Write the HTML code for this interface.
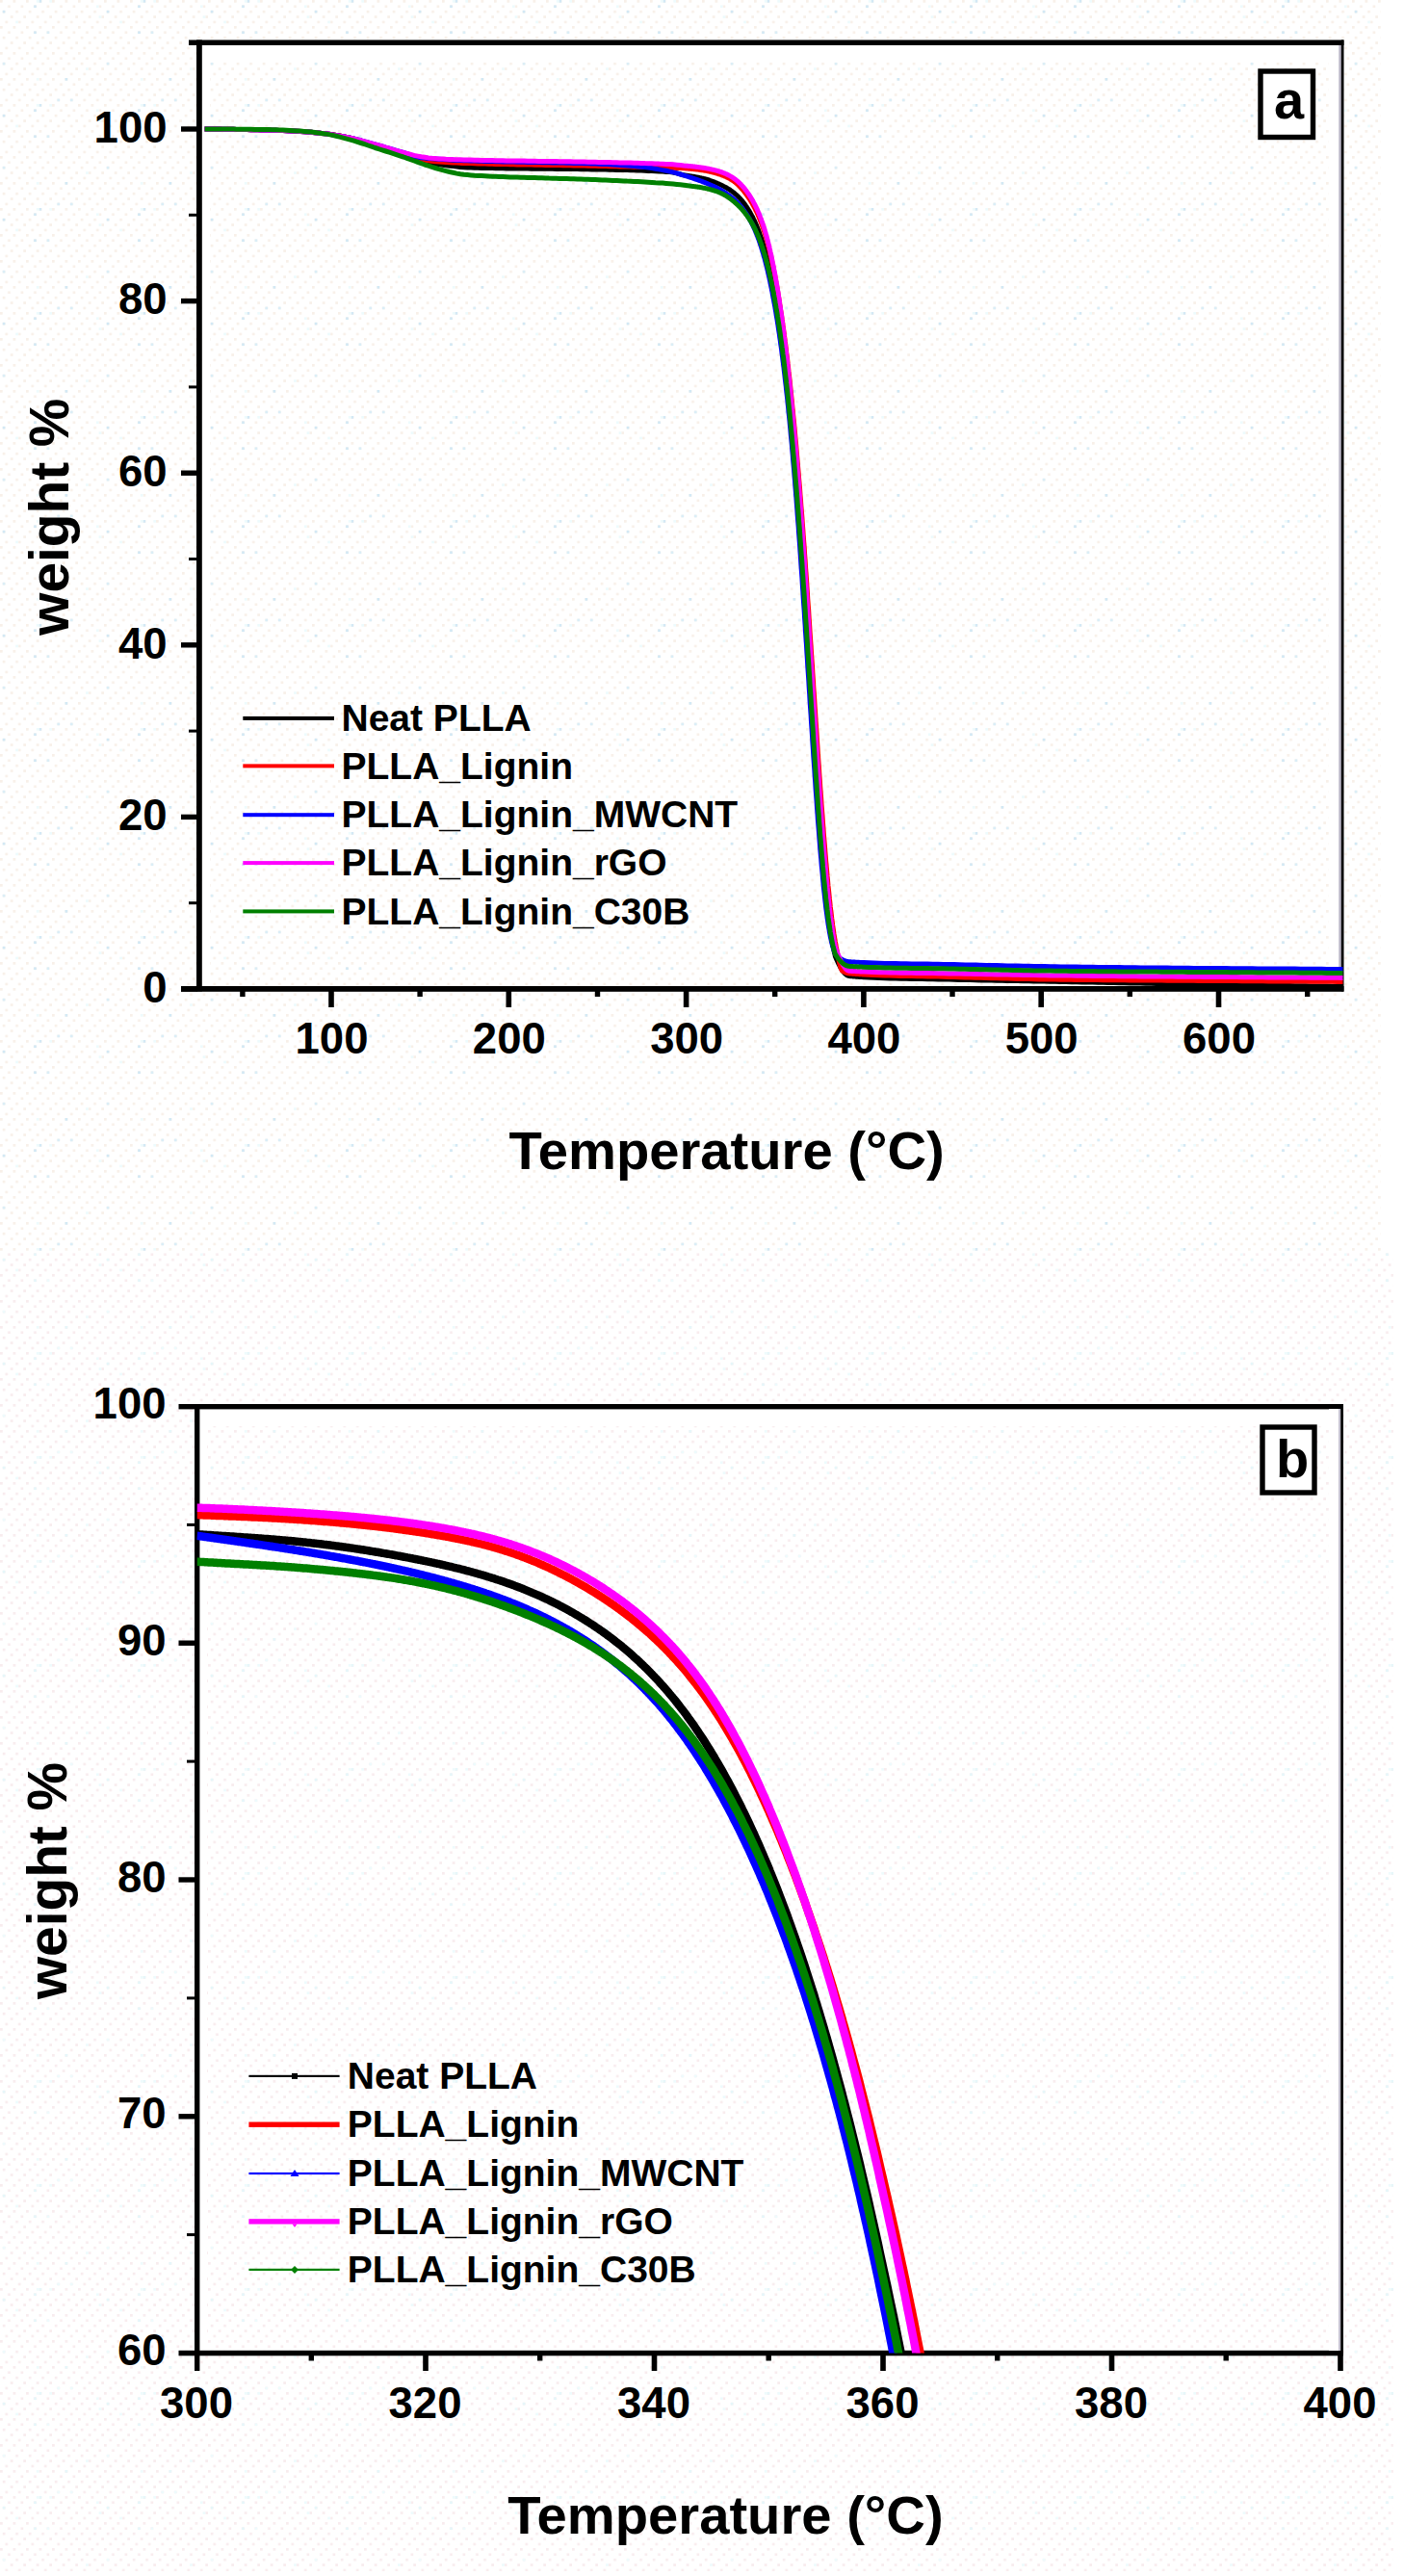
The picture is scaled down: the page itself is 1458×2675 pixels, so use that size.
<!DOCTYPE html>
<html><head><meta charset="utf-8"><title>TGA</title>
<style>html,body{margin:0;padding:0;background:#fff}svg{display:block}text{font-family:"Liberation Sans",sans-serif;font-weight:bold;fill:#000}</style></head><body>
<svg width="1458" height="2675" viewBox="0 0 1458 2675">
<defs>
<pattern id="da" width="13.5" height="27" patternUnits="userSpaceOnUse"><rect x="0.0" y="0.0" width="2.7" height="2.7" fill="#f8f0e9"/><rect x="8.1" y="5.4" width="2.7" height="2.7" fill="#f8f0e9"/><rect x="2.7" y="10.8" width="2.7" height="2.7" fill="#f8f0e9"/><rect x="10.8" y="16.2" width="2.7" height="2.7" fill="#f8f0e9"/><rect x="5.4" y="21.6" width="2.7" height="2.7" fill="#f8f0e9"/></pattern>
<pattern id="db" width="13.5" height="27" patternUnits="userSpaceOnUse"><rect x="0.0" y="0.0" width="2.7" height="2.7" fill="#f8ecee"/><rect x="8.1" y="5.4" width="2.7" height="2.7" fill="#f8ecee"/><rect x="2.7" y="10.8" width="2.7" height="2.7" fill="#f8ecee"/><rect x="10.8" y="16.2" width="2.7" height="2.7" fill="#f8ecee"/><rect x="5.4" y="21.6" width="2.7" height="2.7" fill="#f8ecee"/></pattern>
<pattern id="ea" width="108" height="108" patternUnits="userSpaceOnUse"><rect x="40.5" y="0.0" width="2.7" height="2.7" fill="#d3e9f5"/><rect x="37.8" y="0.0" width="2.7" height="2.7" fill="#eefbfd"/><rect x="51.3" y="0.0" width="2.7" height="2.7" fill="#eefbfd"/><rect x="35.1" y="5.4" width="2.7" height="2.7" fill="#d3e9f5"/><rect x="99.9" y="5.4" width="2.7" height="2.7" fill="#eefbfd"/><rect x="2.7" y="10.8" width="2.7" height="2.7" fill="#d3e9f5"/><rect x="102.6" y="16.2" width="2.7" height="2.7" fill="#eefbfd"/><rect x="16.2" y="21.6" width="2.7" height="2.7" fill="#eefbfd"/><rect x="35.1" y="32.4" width="2.7" height="2.7" fill="#d3e9f5"/><rect x="48.6" y="32.4" width="2.7" height="2.7" fill="#dbeef7"/><rect x="2.7" y="64.8" width="2.7" height="2.7" fill="#dbeef7"/><rect x="89.1" y="70.2" width="2.7" height="2.7" fill="#eefbfd"/><rect x="37.8" y="81.0" width="2.7" height="2.7" fill="#eefbfd"/><rect x="67.5" y="81.0" width="2.7" height="2.7" fill="#d3e9f5"/><rect x="59.4" y="102.6" width="2.7" height="2.7" fill="#dbeef7"/><rect x="72.9" y="102.6" width="2.7" height="2.7" fill="#dbeef7"/></pattern>
<pattern id="eb" width="108" height="108" patternUnits="userSpaceOnUse"><rect x="40.5" y="0.0" width="2.7" height="2.7" fill="#e6f7fa"/><rect x="37.8" y="0.0" width="2.7" height="2.7" fill="#eefbfd"/><rect x="51.3" y="0.0" width="2.7" height="2.7" fill="#eefbfd"/><rect x="35.1" y="5.4" width="2.7" height="2.7" fill="#e6f7fa"/><rect x="99.9" y="5.4" width="2.7" height="2.7" fill="#eefbfd"/><rect x="2.7" y="10.8" width="2.7" height="2.7" fill="#e6f7fa"/><rect x="102.6" y="16.2" width="2.7" height="2.7" fill="#eefbfd"/><rect x="16.2" y="21.6" width="2.7" height="2.7" fill="#eefbfd"/><rect x="35.1" y="32.4" width="2.7" height="2.7" fill="#e6f7fa"/><rect x="48.6" y="32.4" width="2.7" height="2.7" fill="#eefbfd"/><rect x="2.7" y="64.8" width="2.7" height="2.7" fill="#eefbfd"/><rect x="89.1" y="70.2" width="2.7" height="2.7" fill="#eefbfd"/><rect x="37.8" y="81.0" width="2.7" height="2.7" fill="#eefbfd"/><rect x="67.5" y="81.0" width="2.7" height="2.7" fill="#e6f7fa"/><rect x="59.4" y="102.6" width="2.7" height="2.7" fill="#eefbfd"/><rect x="72.9" y="102.6" width="2.7" height="2.7" fill="#eefbfd"/></pattern>
<clipPath id="cb"><rect x="204.5" y="1463" width="1188" height="980.5"/></clipPath>
<clipPath id="ca"><rect x="210" y="47" width="1185.5" height="983"/></clipPath>
</defs>
<rect width="1458" height="2675" fill="#ffffff"/>
<rect x="0" y="0" width="1434" height="1300" fill="url(#da)"/>
<rect x="0" y="1300" width="1447" height="1370" fill="url(#db)"/>
<rect x="0" y="0" width="1434" height="1300" fill="url(#ea)"/>
<rect x="0" y="1300" width="1447" height="1370" fill="url(#eb)"/>
<rect x="210" y="47" width="1182" height="18" fill="#fff"/>
<rect x="210" y="47" width="8" height="977" fill="#fff"/>
<rect x="196" y="41.5" width="1199.5" height="5.5" fill="#000"/><rect x="204" y="41.5" width="5.8" height="988" fill="#000"/><rect x="188" y="1024" width="1207.5" height="5.8" fill="#000"/><rect x="1380" y="47" width="11" height="977" fill="#fff"/><rect x="1390.3" y="47" width="2.7" height="977" fill="#b9b5c6"/><rect x="1392.8" y="41.5" width="2.7" height="988" fill="#000"/>
<g clip-path="url(#ca)" fill="none" stroke-width="5" stroke-linejoin="round">
<path d="M212.6,134.0 L216.3,134.0 L220.0,134.0 L223.7,134.1 L227.3,134.1 L231.0,134.2 L234.7,134.2 L238.4,134.3 L242.1,134.3 L245.8,134.4 L249.5,134.5 L253.1,134.5 L256.8,134.6 L260.5,134.7 L264.2,134.8 L267.9,134.8 L271.6,134.9 L275.3,135.0 L278.9,135.1 L282.6,135.2 L286.3,135.3 L290.0,135.5 L293.7,135.6 L297.4,135.8 L301.1,135.9 L304.7,136.1 L308.4,136.3 L312.1,136.5 L315.8,136.8 L319.5,137.0 L323.2,137.3 L326.9,137.7 L330.5,138.0 L334.2,138.4 L337.9,138.8 L341.6,139.3 L345.3,139.8 L349.0,140.4 L352.7,141.0 L356.3,141.7 L360.0,142.4 L363.7,143.2 L367.4,144.2 L371.1,145.3 L374.8,146.5 L378.5,147.8 L382.2,149.1 L385.8,150.4 L389.5,151.7 L393.2,152.9 L396.9,154.1 L400.6,155.2 L404.3,156.4 L408.0,157.6 L411.6,158.8 L415.3,160.0 L419.0,161.2 L422.7,162.5 L426.4,163.9 L430.1,165.2 L433.8,166.4 L437.4,167.4 L441.1,168.2 L444.8,169.0 L448.5,169.7 L452.2,170.3 L455.9,170.8 L459.6,171.3 L463.2,171.7 L466.9,172.2 L470.6,172.6 L474.3,173.0 L478.0,173.4 L481.7,173.7 L485.4,173.9 L489.0,174.1 L492.7,174.2 L496.4,174.3 L500.1,174.4 L503.8,174.5 L507.5,174.6 L511.2,174.6 L514.8,174.7 L518.5,174.8 L522.2,174.8 L525.9,174.9 L529.6,174.9 L533.3,175.0 L537.0,175.0 L540.6,175.1 L544.3,175.1 L548.0,175.1 L551.7,175.2 L555.4,175.2 L559.1,175.2 L562.8,175.3 L566.5,175.3 L570.1,175.3 L573.8,175.3 L577.5,175.4 L581.2,175.4 L584.9,175.5 L588.6,175.5 L592.3,175.5 L595.9,175.6 L599.6,175.6 L603.3,175.7 L607.0,175.7 L610.7,175.8 L614.4,175.9 L618.1,175.9 L621.7,176.0 L625.4,176.1 L629.1,176.1 L632.8,176.2 L636.5,176.3 L640.2,176.4 L643.9,176.5 L647.5,176.5 L651.2,176.6 L654.9,176.7 L658.6,176.8 L662.3,177.0 L666.0,177.1 L669.7,177.2 L673.3,177.4 L677.0,177.5 L680.7,177.7 L684.4,177.9 L688.1,178.1 L691.8,178.4 L695.5,178.6 L699.1,179.1 L702.8,179.9 L706.5,180.8 L710.2,181.8 L712.6,182.2 L713.1,182.3 L713.5,182.4 L714.0,182.4 L714.4,182.5 L714.9,182.6 L715.4,182.6 L715.8,182.7 L716.3,182.8 L716.7,182.8 L717.2,182.9 L717.7,183.0 L718.1,183.1 L718.6,183.1 L719.1,183.2 L719.5,183.3 L720.0,183.3 L720.4,183.4 L720.9,183.5 L721.4,183.6 L721.8,183.6 L722.3,183.7 L722.7,183.8 L723.2,183.9 L723.7,183.9 L724.1,184.0 L724.6,184.1 L725.0,184.2 L725.5,184.3 L726.0,184.4 L726.4,184.5 L726.9,184.6 L727.3,184.7 L727.8,184.8 L728.3,184.9 L728.7,185.0 L729.2,185.1 L729.6,185.2 L730.1,185.3 L730.6,185.4 L731.0,185.5 L731.5,185.6 L732.0,185.8 L732.4,185.9 L732.9,186.0 L733.3,186.1 L733.8,186.3 L734.3,186.4 L734.7,186.5 L735.2,186.7 L735.6,186.8 L736.1,187.0 L736.6,187.1 L737.0,187.3 L737.5,187.4 L737.9,187.6 L738.4,187.8 L738.9,187.9 L739.3,188.1 L739.8,188.3 L740.2,188.4 L740.7,188.6 L741.2,188.8 L741.6,189.0 L742.1,189.1 L742.5,189.3 L743.0,189.5 L743.5,189.7 L743.9,189.9 L744.4,190.1 L744.9,190.3 L745.3,190.5 L745.8,190.7 L746.2,190.9 L746.7,191.1 L747.2,191.3 L747.6,191.5 L748.1,191.7 L748.5,191.9 L749.0,192.2 L749.5,192.4 L749.9,192.6 L750.4,192.8 L750.8,193.1 L751.3,193.3 L751.8,193.5 L752.2,193.8 L752.7,194.0 L753.1,194.3 L753.6,194.5 L754.1,194.8 L754.5,195.0 L755.0,195.3 L755.4,195.6 L755.9,195.9 L756.4,196.2 L756.8,196.4 L757.3,196.7 L757.8,197.0 L758.2,197.3 L758.7,197.7 L759.1,198.0 L759.6,198.3 L760.1,198.6 L760.5,199.0 L761.0,199.3 L761.4,199.7 L761.9,200.0 L762.4,200.4 L762.8,200.8 L763.3,201.2 L763.7,201.6 L764.2,202.0 L764.7,202.4 L765.1,202.8 L765.6,203.2 L766.0,203.7 L766.5,204.1 L767.0,204.6 L767.4,205.1 L767.9,205.5 L768.4,206.0 L768.8,206.5 L769.3,207.0 L769.7,207.6 L770.2,208.1 L770.7,208.6 L771.1,209.2 L771.6,209.8 L772.0,210.3 L772.5,210.9 L773.0,211.5 L773.4,212.2 L773.9,212.8 L774.3,213.4 L774.8,214.1 L775.3,214.8 L775.7,215.4 L776.2,216.1 L776.6,216.8 L777.1,217.6 L777.6,218.3 L778.0,219.1 L778.5,219.9 L778.9,220.6 L779.4,221.5 L779.9,222.3 L780.3,223.1 L780.8,224.0 L781.3,224.9 L781.7,225.8 L782.2,226.7 L782.6,227.6 L783.1,228.6 L783.6,229.6 L784.0,230.6 L784.5,231.6 L784.9,232.7 L785.4,233.7 L785.9,234.8 L786.3,236.0 L786.8,237.1 L787.2,238.3 L787.7,239.5 L788.2,240.7 L788.6,242.0 L789.1,243.3 L789.5,244.6 L790.0,245.9 L790.5,247.3 L790.9,248.7 L791.4,250.1 L791.8,251.6 L792.3,253.1 L792.8,254.7 L793.2,256.2 L793.7,257.8 L794.2,259.5 L794.6,261.2 L795.1,262.9 L795.5,264.6 L796.0,266.4 L796.5,268.2 L796.9,270.1 L797.4,272.0 L797.8,273.9 L798.3,275.9 L798.8,277.9 L799.2,280.0 L799.7,282.1 L800.1,284.2 L800.6,286.4 L801.1,288.7 L801.5,290.9 L802.0,293.2 L802.4,295.6 L802.9,298.0 L803.4,300.5 L803.8,303.0 L804.3,305.5 L804.8,308.1 L805.2,310.7 L805.7,313.4 L806.1,316.2 L806.6,318.9 L807.1,321.8 L807.5,324.7 L808.0,327.6 L808.4,330.6 L808.9,333.7 L809.4,336.8 L809.8,339.9 L810.3,343.2 L810.7,346.4 L811.2,349.8 L811.7,353.2 L812.1,356.6 L812.6,360.1 L813.0,363.7 L813.5,367.3 L814.0,371.0 L814.4,374.8 L814.9,378.6 L815.3,382.5 L815.8,386.4 L816.3,390.4 L816.7,394.5 L817.2,398.6 L817.7,402.8 L818.1,407.1 L818.6,411.4 L819.0,415.9 L819.5,420.3 L820.0,424.9 L820.4,429.5 L820.9,434.2 L821.3,438.9 L821.8,443.8 L822.3,448.7 L822.7,453.7 L823.2,458.7 L823.6,463.7 L824.1,468.7 L824.6,473.8 L825.0,479.0 L825.5,484.3 L825.9,489.6 L826.4,495.0 L826.9,500.4 L827.3,506.0 L827.8,511.6 L828.2,517.2 L828.7,523.0 L829.2,528.8 L829.6,534.6 L830.1,540.6 L830.6,546.5 L831.0,552.6 L831.5,558.7 L831.9,564.9 L832.4,571.1 L832.9,577.4 L833.3,583.7 L833.8,590.1 L834.2,596.6 L834.7,603.2 L835.2,609.9 L835.6,616.6 L836.1,623.3 L836.5,630.2 L837.0,637.0 L837.5,643.9 L837.9,650.8 L838.4,657.7 L838.8,664.7 L839.3,671.7 L839.8,678.7 L840.2,685.7 L840.7,692.7 L841.1,699.8 L841.6,706.8 L842.1,713.9 L842.5,720.9 L843.0,728.0 L843.5,735.0 L843.9,742.0 L844.4,749.1 L844.8,756.0 L845.3,763.0 L845.8,769.9 L846.2,776.8 L846.7,783.7 L847.1,790.5 L847.6,797.3 L848.1,804.0 L848.5,810.7 L849.0,817.3 L849.4,823.8 L849.9,830.3 L850.4,836.6 L850.8,843.0 L851.3,849.2 L851.7,855.3 L852.2,861.4 L852.7,867.3 L853.1,873.2 L853.6,879.0 L854.1,884.6 L854.5,890.1 L855.0,895.6 L855.4,900.9 L855.9,906.1 L856.4,911.1 L856.8,916.1 L857.3,920.9 L857.7,925.6 L858.2,930.2 L858.7,934.6 L859.1,938.9 L859.6,943.0 L860.0,947.1 L860.5,950.9 L861.0,954.7 L861.4,958.3 L861.9,961.8 L862.3,965.1 L862.8,968.3 L863.3,971.3 L863.7,974.3 L864.2,977.1 L864.6,979.7 L865.1,982.3 L865.6,984.7 L866.0,986.9 L866.5,989.1 L867.0,991.3 L867.4,993.1 L867.9,994.2 L868.3,995.3 L868.8,996.4 L869.3,997.4 L869.7,998.4 L870.2,999.4 L870.6,1000.4 L871.1,1001.3 L871.6,1002.2 L872.0,1003.1 L872.5,1004.0 L872.9,1004.8 L873.4,1005.6 L873.9,1006.3 L874.3,1007.0 L874.8,1007.7 L875.2,1008.4 L875.7,1009.0 L876.2,1009.6 L876.6,1010.1 L877.1,1010.6 L877.5,1011.1 L878.0,1011.5 L878.5,1011.9 L878.9,1012.3 L879.4,1012.6 L879.9,1012.9 L880.3,1013.1 L880.8,1013.3 L881.2,1013.4 L881.7,1013.5 L882.2,1013.6 L882.6,1013.6 L883.1,1013.7 L883.5,1013.7 L884.0,1013.8 L884.5,1013.8 L884.9,1013.8 L885.4,1013.9 L885.8,1013.9 L886.3,1013.9 L886.8,1014.0 L887.2,1014.0 L887.7,1014.1 L888.1,1014.1 L888.6,1014.1 L889.1,1014.2 L889.5,1014.2 L890.0,1014.2 L890.4,1014.3 L890.9,1014.3 L891.4,1014.3 L891.8,1014.4 L892.3,1014.4 L892.8,1014.4 L893.2,1014.4 L893.7,1014.5 L894.1,1014.5 L894.6,1014.5 L895.1,1014.6 L895.5,1014.6 L896.0,1014.6 L896.4,1014.7 L896.9,1014.7 L902.4,1015.0 L908.0,1015.3 L913.5,1015.5 L919.0,1015.7 L924.5,1015.9 L930.1,1016.1 L935.6,1016.2 L941.1,1016.3 L946.7,1016.4 L952.2,1016.5 L957.7,1016.6 L963.2,1016.7 L968.8,1016.8 L974.3,1016.9 L979.8,1017.0 L985.4,1017.1 L990.9,1017.2 L996.4,1017.4 L1002.0,1017.5 L1007.5,1017.6 L1013.0,1017.7 L1018.5,1017.9 L1024.1,1018.0 L1029.6,1018.1 L1035.1,1018.2 L1040.7,1018.3 L1046.2,1018.4 L1051.7,1018.5 L1057.2,1018.6 L1062.8,1018.7 L1068.3,1018.8 L1073.8,1018.9 L1079.4,1019.0 L1084.9,1019.1 L1090.4,1019.2 L1095.9,1019.3 L1101.5,1019.4 L1107.0,1019.6 L1112.5,1019.7 L1118.1,1019.8 L1123.6,1019.9 L1129.1,1020.0 L1134.6,1020.1 L1140.2,1020.2 L1145.7,1020.3 L1151.2,1020.4 L1156.8,1020.5 L1162.3,1020.7 L1167.8,1020.8 L1173.3,1020.9 L1178.9,1021.0 L1184.4,1021.1 L1189.9,1021.2 L1195.5,1021.3 L1201.0,1021.4 L1206.5,1021.5 L1212.1,1021.6 L1217.6,1021.7 L1223.1,1021.8 L1228.6,1021.9 L1234.2,1022.0 L1239.7,1022.1 L1245.2,1022.2 L1250.8,1022.3 L1256.3,1022.4 L1261.8,1022.5 L1267.3,1022.6 L1272.9,1022.6 L1278.4,1022.7 L1283.9,1022.8 L1289.5,1022.9 L1295.0,1023.0 L1300.5,1023.1 L1306.0,1023.1 L1311.6,1023.2 L1317.1,1023.3 L1322.6,1023.4 L1328.2,1023.5 L1333.7,1023.5 L1339.2,1023.6 L1344.7,1023.7 L1350.3,1023.7 L1355.8,1023.8 L1361.3,1023.9 L1366.9,1024.0 L1372.4,1024.0 L1377.9,1024.1 L1383.5,1024.2 L1389.0,1024.2 L1394.5,1024.3" stroke="#000000"/>
<path d="M212.6,134.0 L216.3,134.0 L220.0,134.0 L223.7,134.1 L227.3,134.1 L231.0,134.2 L234.7,134.2 L238.4,134.3 L242.1,134.3 L245.8,134.4 L249.5,134.5 L253.1,134.5 L256.8,134.6 L260.5,134.7 L264.2,134.8 L267.9,134.8 L271.6,134.9 L275.3,135.0 L278.9,135.1 L282.6,135.2 L286.3,135.3 L290.0,135.5 L293.7,135.6 L297.4,135.8 L301.1,135.9 L304.7,136.1 L308.4,136.3 L312.1,136.5 L315.8,136.8 L319.5,137.0 L323.2,137.3 L326.9,137.7 L330.5,138.0 L334.2,138.4 L337.9,138.8 L341.6,139.3 L345.3,139.8 L349.0,140.4 L352.7,141.0 L356.3,141.7 L360.0,142.4 L363.7,143.2 L367.4,144.1 L371.1,145.1 L374.8,146.2 L378.5,147.3 L382.2,148.5 L385.8,149.6 L389.5,150.8 L393.2,151.9 L396.9,153.1 L400.6,154.3 L404.3,155.6 L408.0,156.8 L411.6,158.0 L415.3,159.2 L419.0,160.3 L422.7,161.5 L426.4,162.7 L430.1,163.8 L433.8,164.7 L437.4,165.5 L441.1,166.2 L444.8,166.8 L448.5,167.3 L452.2,167.7 L455.9,168.0 L459.6,168.3 L463.2,168.5 L466.9,168.7 L470.6,168.9 L474.3,169.1 L478.0,169.2 L481.7,169.4 L485.4,169.5 L489.0,169.6 L492.7,169.8 L496.4,169.9 L500.1,170.0 L503.8,170.1 L507.5,170.2 L511.2,170.3 L514.8,170.4 L518.5,170.5 L522.2,170.5 L525.9,170.6 L529.6,170.7 L533.3,170.8 L537.0,170.9 L540.6,170.9 L544.3,171.0 L548.0,171.1 L551.7,171.1 L555.4,171.2 L559.1,171.3 L562.8,171.3 L566.5,171.4 L570.1,171.5 L573.8,171.5 L577.5,171.6 L581.2,171.6 L584.9,171.7 L588.6,171.8 L592.3,171.8 L595.9,171.9 L599.6,172.0 L603.3,172.0 L607.0,172.1 L610.7,172.2 L614.4,172.3 L618.1,172.3 L621.7,172.4 L625.4,172.5 L629.1,172.6 L632.8,172.7 L636.5,172.7 L640.2,172.8 L643.9,172.9 L647.5,173.0 L651.2,173.0 L654.9,173.1 L658.6,173.2 L662.3,173.3 L666.0,173.4 L669.7,173.5 L673.3,173.5 L677.0,173.6 L680.7,173.7 L684.4,173.8 L688.1,173.9 L691.8,174.0 L695.5,174.2 L699.1,174.3 L702.8,174.4 L706.5,174.6 L710.2,174.8 L712.6,174.9 L713.1,175.0 L713.5,175.0 L714.0,175.0 L714.4,175.1 L714.9,175.1 L715.4,175.2 L715.8,175.2 L716.3,175.2 L716.7,175.3 L717.2,175.3 L717.7,175.4 L718.1,175.4 L718.6,175.5 L719.1,175.5 L719.5,175.5 L720.0,175.6 L720.4,175.6 L720.9,175.7 L721.4,175.7 L721.8,175.8 L722.3,175.8 L722.7,175.9 L723.2,175.9 L723.7,176.0 L724.1,176.0 L724.6,176.1 L725.0,176.1 L725.5,176.2 L726.0,176.3 L726.4,176.3 L726.9,176.4 L727.3,176.4 L727.8,176.5 L728.3,176.6 L728.7,176.6 L729.2,176.7 L729.6,176.8 L730.1,176.9 L730.6,176.9 L731.0,177.0 L731.5,177.1 L732.0,177.2 L732.4,177.3 L732.9,177.3 L733.3,177.4 L733.8,177.5 L734.3,177.6 L734.7,177.7 L735.2,177.8 L735.6,177.9 L736.1,178.0 L736.6,178.1 L737.0,178.2 L737.5,178.3 L737.9,178.4 L738.4,178.5 L738.9,178.6 L739.3,178.7 L739.8,178.8 L740.2,178.9 L740.7,179.1 L741.2,179.2 L741.6,179.3 L742.1,179.4 L742.5,179.5 L743.0,179.7 L743.5,179.8 L743.9,179.9 L744.4,180.1 L744.9,180.2 L745.3,180.4 L745.8,180.5 L746.2,180.7 L746.7,180.8 L747.2,181.0 L747.6,181.1 L748.1,181.3 L748.5,181.4 L749.0,181.6 L749.5,181.8 L749.9,182.0 L750.4,182.1 L750.8,182.3 L751.3,182.5 L751.8,182.7 L752.2,182.9 L752.7,183.1 L753.1,183.3 L753.6,183.5 L754.1,183.7 L754.5,183.9 L755.0,184.1 L755.4,184.3 L755.9,184.6 L756.4,184.8 L756.8,185.0 L757.3,185.3 L757.8,185.5 L758.2,185.8 L758.7,186.1 L759.1,186.4 L759.6,186.6 L760.1,186.9 L760.5,187.2 L761.0,187.5 L761.4,187.9 L761.9,188.2 L762.4,188.5 L762.8,188.9 L763.3,189.2 L763.7,189.6 L764.2,190.0 L764.7,190.4 L765.1,190.8 L765.6,191.2 L766.0,191.6 L766.5,192.0 L767.0,192.5 L767.4,192.9 L767.9,193.4 L768.4,193.9 L768.8,194.4 L769.3,194.9 L769.7,195.4 L770.2,195.9 L770.7,196.4 L771.1,196.9 L771.6,197.5 L772.0,198.0 L772.5,198.6 L773.0,199.2 L773.4,199.8 L773.9,200.4 L774.3,201.0 L774.8,201.6 L775.3,202.2 L775.7,202.9 L776.2,203.5 L776.6,204.2 L777.1,204.8 L777.6,205.5 L778.0,206.2 L778.5,206.9 L778.9,207.7 L779.4,208.4 L779.9,209.2 L780.3,209.9 L780.8,210.7 L781.3,211.5 L781.7,212.3 L782.2,213.1 L782.6,214.0 L783.1,214.9 L783.6,215.7 L784.0,216.6 L784.5,217.5 L784.9,218.5 L785.4,219.4 L785.9,220.4 L786.3,221.4 L786.8,222.4 L787.2,223.4 L787.7,224.5 L788.2,225.6 L788.6,226.7 L789.1,227.8 L789.5,229.0 L790.0,230.2 L790.5,231.4 L790.9,232.6 L791.4,233.9 L791.8,235.2 L792.3,236.5 L792.8,237.9 L793.2,239.3 L793.7,240.7 L794.2,242.2 L794.6,243.7 L795.1,245.3 L795.5,246.8 L796.0,248.4 L796.5,250.1 L796.9,251.8 L797.4,253.5 L797.8,255.3 L798.3,257.1 L798.8,258.9 L799.2,260.8 L799.7,262.7 L800.1,264.7 L800.6,266.7 L801.1,268.8 L801.5,270.9 L802.0,273.0 L802.4,275.2 L802.9,277.4 L803.4,279.7 L803.8,282.0 L804.3,284.3 L804.8,286.7 L805.2,289.1 L805.7,291.6 L806.1,294.2 L806.6,296.7 L807.1,299.4 L807.5,302.0 L808.0,304.8 L808.4,307.5 L808.9,310.3 L809.4,313.2 L809.8,316.1 L810.3,319.1 L810.7,322.1 L811.2,325.1 L811.7,328.2 L812.1,331.4 L812.6,334.6 L813.0,337.9 L813.5,341.2 L814.0,344.6 L814.4,348.0 L814.9,351.5 L815.3,355.1 L815.8,358.7 L816.3,362.4 L816.7,366.1 L817.2,369.9 L817.7,373.8 L818.1,377.7 L818.6,381.7 L819.0,385.8 L819.5,389.9 L820.0,394.1 L820.4,398.4 L820.9,402.7 L821.3,407.1 L821.8,411.6 L822.3,416.1 L822.7,420.7 L823.2,425.4 L823.6,430.0 L824.1,434.7 L824.6,439.5 L825.0,444.3 L825.5,449.2 L825.9,454.2 L826.4,459.3 L826.9,464.4 L827.3,469.6 L827.8,474.9 L828.2,480.2 L828.7,485.7 L829.2,491.2 L829.6,496.7 L830.1,502.3 L830.6,508.0 L831.0,513.8 L831.5,519.6 L831.9,525.5 L832.4,531.5 L832.9,537.5 L833.3,543.6 L833.8,549.8 L834.2,556.0 L834.7,562.4 L835.2,568.8 L835.6,575.3 L836.1,581.8 L836.5,588.4 L837.0,595.1 L837.5,601.7 L837.9,608.5 L838.4,615.2 L838.8,622.1 L839.3,628.9 L839.8,635.8 L840.2,642.7 L840.7,649.7 L841.1,656.6 L841.6,663.6 L842.1,670.7 L842.5,677.7 L843.0,684.7 L843.5,691.8 L843.9,698.9 L844.4,705.9 L844.8,713.0 L845.3,720.1 L845.8,727.2 L846.2,734.2 L846.7,741.2 L847.1,748.3 L847.6,755.2 L848.1,762.2 L848.5,769.1 L849.0,776.0 L849.4,782.9 L849.9,789.7 L850.4,796.5 L850.8,803.2 L851.3,809.8 L851.7,816.4 L852.2,822.9 L852.7,829.4 L853.1,835.7 L853.6,842.0 L854.1,848.3 L854.5,854.4 L855.0,860.4 L855.4,866.3 L855.9,872.2 L856.4,877.9 L856.8,883.5 L857.3,889.1 L857.7,894.5 L858.2,899.7 L858.7,904.9 L859.1,910.0 L859.6,914.9 L860.0,919.7 L860.5,924.3 L861.0,928.9 L861.4,933.3 L861.9,937.6 L862.3,941.7 L862.8,945.7 L863.3,949.6 L863.7,953.3 L864.2,956.9 L864.6,960.3 L865.1,963.7 L865.6,966.8 L866.0,969.9 L866.5,972.8 L867.0,975.6 L867.4,978.2 L867.9,980.6 L868.3,983.0 L868.8,985.5 L869.3,987.9 L869.7,990.4 L870.2,992.8 L870.6,995.1 L871.1,997.3 L871.6,999.4 L872.0,1001.3 L872.5,1003.1 L872.9,1004.6 L873.4,1005.9 L873.9,1007.0 L874.3,1007.8 L874.8,1008.2 L875.2,1008.5 L875.7,1008.8 L876.2,1009.1 L876.6,1009.3 L877.1,1009.6 L877.5,1009.8 L878.0,1010.0 L878.5,1010.1 L878.9,1010.3 L879.4,1010.4 L879.9,1010.5 L880.3,1010.7 L880.8,1010.7 L881.2,1010.8 L881.7,1010.9 L882.2,1010.9 L882.6,1011.0 L883.1,1011.0 L883.5,1011.0 L884.0,1011.1 L884.5,1011.1 L884.9,1011.1 L885.4,1011.2 L885.8,1011.2 L886.3,1011.2 L886.8,1011.3 L887.2,1011.3 L887.7,1011.3 L888.1,1011.4 L888.6,1011.4 L889.1,1011.4 L889.5,1011.5 L890.0,1011.5 L890.4,1011.5 L890.9,1011.6 L891.4,1011.6 L891.8,1011.6 L892.3,1011.7 L892.8,1011.7 L893.2,1011.7 L893.7,1011.8 L894.1,1011.8 L894.6,1011.8 L895.1,1011.8 L895.5,1011.9 L896.0,1011.9 L896.4,1011.9 L896.9,1011.9 L902.4,1012.2 L908.0,1012.5 L913.5,1012.7 L919.0,1012.9 L924.5,1013.1 L930.1,1013.3 L935.6,1013.4 L941.1,1013.5 L946.7,1013.6 L952.2,1013.7 L957.7,1013.8 L963.2,1013.9 L968.8,1014.0 L974.3,1014.1 L979.8,1014.3 L985.4,1014.4 L990.9,1014.5 L996.4,1014.7 L1002.0,1014.9 L1007.5,1015.0 L1013.0,1015.2 L1018.5,1015.3 L1024.1,1015.5 L1029.6,1015.7 L1035.1,1015.8 L1040.7,1016.0 L1046.2,1016.1 L1051.7,1016.2 L1057.2,1016.4 L1062.8,1016.5 L1068.3,1016.6 L1073.8,1016.7 L1079.4,1016.9 L1084.9,1017.0 L1090.4,1017.0 L1095.9,1017.1 L1101.5,1017.2 L1107.0,1017.3 L1112.5,1017.3 L1118.1,1017.4 L1123.6,1017.5 L1129.1,1017.5 L1134.6,1017.6 L1140.2,1017.6 L1145.7,1017.7 L1151.2,1017.7 L1156.8,1017.8 L1162.3,1017.8 L1167.8,1017.8 L1173.3,1017.9 L1178.9,1017.9 L1184.4,1018.0 L1189.9,1018.0 L1195.5,1018.0 L1201.0,1018.1 L1206.5,1018.1 L1212.1,1018.2 L1217.6,1018.2 L1223.1,1018.2 L1228.6,1018.3 L1234.2,1018.3 L1239.7,1018.3 L1245.2,1018.4 L1250.8,1018.4 L1256.3,1018.5 L1261.8,1018.5 L1267.3,1018.5 L1272.9,1018.6 L1278.4,1018.6 L1283.9,1018.6 L1289.5,1018.7 L1295.0,1018.7 L1300.5,1018.8 L1306.0,1018.8 L1311.6,1018.8 L1317.1,1018.9 L1322.6,1018.9 L1328.2,1019.0 L1333.7,1019.0 L1339.2,1019.0 L1344.7,1019.1 L1350.3,1019.1 L1355.8,1019.1 L1361.3,1019.2 L1366.9,1019.2 L1372.4,1019.2 L1377.9,1019.3 L1383.5,1019.3 L1389.0,1019.4 L1394.5,1019.4" stroke="#ff0000"/>
<path d="M212.6,134.0 L216.3,134.0 L220.0,134.0 L223.7,134.1 L227.3,134.1 L231.0,134.2 L234.7,134.2 L238.4,134.3 L242.1,134.3 L245.8,134.4 L249.5,134.5 L253.1,134.5 L256.8,134.6 L260.5,134.7 L264.2,134.8 L267.9,134.8 L271.6,134.9 L275.3,135.0 L278.9,135.1 L282.6,135.2 L286.3,135.3 L290.0,135.5 L293.7,135.6 L297.4,135.8 L301.1,135.9 L304.7,136.1 L308.4,136.3 L312.1,136.5 L315.8,136.8 L319.5,137.0 L323.2,137.3 L326.9,137.7 L330.5,138.0 L334.2,138.4 L337.9,138.8 L341.6,139.3 L345.3,139.9 L349.0,140.4 L352.7,141.1 L356.3,141.8 L360.0,142.5 L363.7,143.2 L367.4,144.0 L371.1,144.9 L374.8,145.8 L378.5,146.8 L382.2,147.9 L385.8,148.9 L389.5,149.9 L393.2,150.9 L396.9,152.0 L400.6,153.1 L404.3,154.1 L408.0,155.2 L411.6,156.3 L415.3,157.4 L419.0,158.5 L422.7,159.7 L426.4,160.9 L430.1,162.1 L433.8,163.0 L437.4,163.7 L441.1,164.1 L444.8,164.5 L448.5,164.8 L452.2,165.1 L455.9,165.3 L459.6,165.6 L463.2,165.8 L466.9,166.0 L470.6,166.2 L474.3,166.4 L478.0,166.5 L481.7,166.7 L485.4,166.8 L489.0,167.0 L492.7,167.1 L496.4,167.2 L500.1,167.3 L503.8,167.4 L507.5,167.5 L511.2,167.6 L514.8,167.7 L518.5,167.8 L522.2,167.9 L525.9,168.0 L529.6,168.0 L533.3,168.1 L537.0,168.2 L540.6,168.3 L544.3,168.3 L548.0,168.4 L551.7,168.5 L555.4,168.5 L559.1,168.6 L562.8,168.7 L566.5,168.7 L570.1,168.8 L573.8,168.9 L577.5,168.9 L581.2,169.0 L584.9,169.1 L588.6,169.2 L592.3,169.3 L595.9,169.4 L599.6,169.5 L603.3,169.6 L607.0,169.7 L610.7,169.8 L614.4,169.9 L618.1,170.1 L621.7,170.2 L625.4,170.4 L629.1,170.5 L632.8,170.7 L636.5,170.9 L640.2,171.2 L643.9,171.4 L647.5,171.7 L651.2,171.9 L654.9,172.2 L658.6,172.5 L662.3,172.9 L666.0,173.2 L669.7,173.6 L673.3,174.1 L677.0,174.6 L680.7,175.2 L684.4,175.9 L688.1,176.6 L691.8,177.3 L695.5,178.1 L699.1,178.9 L702.8,179.9 L706.5,181.0 L710.2,182.1 L712.6,182.8 L713.1,183.0 L713.5,183.1 L714.0,183.3 L714.4,183.4 L714.9,183.6 L715.4,183.7 L715.8,183.9 L716.3,184.0 L716.7,184.2 L717.2,184.3 L717.7,184.5 L718.1,184.6 L718.6,184.8 L719.1,184.9 L719.5,185.1 L720.0,185.2 L720.4,185.4 L720.9,185.5 L721.4,185.7 L721.8,185.9 L722.3,186.0 L722.7,186.2 L723.2,186.3 L723.7,186.5 L724.1,186.6 L724.6,186.8 L725.0,187.0 L725.5,187.1 L726.0,187.3 L726.4,187.5 L726.9,187.6 L727.3,187.8 L727.8,188.0 L728.3,188.1 L728.7,188.3 L729.2,188.5 L729.6,188.7 L730.1,188.8 L730.6,189.0 L731.0,189.2 L731.5,189.4 L732.0,189.6 L732.4,189.7 L732.9,189.9 L733.3,190.1 L733.8,190.3 L734.3,190.5 L734.7,190.7 L735.2,190.9 L735.6,191.1 L736.1,191.3 L736.6,191.5 L737.0,191.7 L737.5,191.9 L737.9,192.1 L738.4,192.3 L738.9,192.5 L739.3,192.7 L739.8,192.9 L740.2,193.1 L740.7,193.3 L741.2,193.5 L741.6,193.7 L742.1,194.0 L742.5,194.2 L743.0,194.4 L743.5,194.6 L743.9,194.9 L744.4,195.1 L744.9,195.3 L745.3,195.6 L745.8,195.8 L746.2,196.1 L746.7,196.3 L747.2,196.6 L747.6,196.8 L748.1,197.1 L748.5,197.3 L749.0,197.6 L749.5,197.9 L749.9,198.1 L750.4,198.4 L750.8,198.7 L751.3,199.0 L751.8,199.3 L752.2,199.6 L752.7,199.9 L753.1,200.2 L753.6,200.5 L754.1,200.8 L754.5,201.1 L755.0,201.4 L755.4,201.7 L755.9,202.1 L756.4,202.4 L756.8,202.7 L757.3,203.1 L757.8,203.4 L758.2,203.8 L758.7,204.1 L759.1,204.5 L759.6,204.9 L760.1,205.2 L760.5,205.6 L761.0,206.0 L761.4,206.4 L761.9,206.8 L762.4,207.2 L762.8,207.6 L763.3,208.1 L763.7,208.5 L764.2,208.9 L764.7,209.4 L765.1,209.8 L765.6,210.3 L766.0,210.8 L766.5,211.2 L767.0,211.7 L767.4,212.2 L767.9,212.7 L768.4,213.3 L768.8,213.8 L769.3,214.3 L769.7,214.9 L770.2,215.4 L770.7,216.0 L771.1,216.6 L771.6,217.2 L772.0,217.8 L772.5,218.4 L773.0,219.1 L773.4,219.7 L773.9,220.4 L774.3,221.0 L774.8,221.7 L775.3,222.4 L775.7,223.1 L776.2,223.9 L776.6,224.6 L777.1,225.4 L777.6,226.1 L778.0,226.9 L778.5,227.7 L778.9,228.6 L779.4,229.4 L779.9,230.3 L780.3,231.2 L780.8,232.1 L781.3,233.0 L781.7,233.9 L782.2,234.9 L782.6,235.9 L783.1,236.9 L783.6,237.9 L784.0,238.9 L784.5,240.0 L784.9,241.1 L785.4,242.2 L785.9,243.4 L786.3,244.6 L786.8,245.8 L787.2,247.0 L787.7,248.2 L788.2,249.5 L788.6,250.8 L789.1,252.2 L789.5,253.6 L790.0,255.0 L790.5,256.4 L790.9,257.9 L791.4,259.4 L791.8,260.9 L792.3,262.5 L792.8,264.1 L793.2,265.7 L793.7,267.4 L794.2,269.1 L794.6,270.8 L795.1,272.6 L795.5,274.4 L796.0,276.2 L796.5,278.1 L796.9,280.0 L797.4,282.0 L797.8,283.9 L798.3,286.0 L798.8,288.0 L799.2,290.1 L799.7,292.3 L800.1,294.5 L800.6,296.7 L801.1,298.9 L801.5,301.2 L802.0,303.6 L802.4,306.0 L802.9,308.4 L803.4,310.9 L803.8,313.4 L804.3,315.9 L804.8,318.5 L805.2,321.2 L805.7,323.9 L806.1,326.7 L806.6,329.5 L807.1,332.3 L807.5,335.2 L808.0,338.2 L808.4,341.2 L808.9,344.3 L809.4,347.4 L809.8,350.6 L810.3,353.8 L810.7,357.1 L811.2,360.5 L811.7,363.9 L812.1,367.4 L812.6,370.9 L813.0,374.5 L813.5,378.2 L814.0,382.0 L814.4,385.8 L814.9,389.7 L815.3,393.6 L815.8,397.6 L816.3,401.7 L816.7,405.9 L817.2,410.1 L817.7,414.4 L818.1,418.8 L818.6,423.3 L819.0,427.8 L819.5,432.5 L820.0,437.2 L820.4,441.9 L820.9,446.8 L821.3,451.7 L821.8,456.7 L822.3,461.8 L822.7,467.0 L823.2,472.2 L823.6,477.6 L824.1,482.9 L824.6,488.4 L825.0,494.0 L825.5,499.6 L825.9,505.3 L826.4,511.1 L826.9,517.0 L827.3,522.9 L827.8,529.0 L828.2,535.1 L828.7,541.3 L829.2,547.6 L829.6,553.9 L830.1,560.3 L830.6,566.8 L831.0,573.3 L831.5,579.9 L831.9,586.6 L832.4,593.3 L832.9,600.1 L833.3,607.0 L833.8,613.9 L834.2,620.8 L834.7,627.8 L835.2,634.8 L835.6,641.9 L836.1,649.0 L836.5,656.1 L837.0,663.2 L837.5,670.4 L837.9,677.6 L838.4,684.9 L838.8,692.1 L839.3,699.3 L839.8,706.6 L840.2,713.8 L840.7,721.1 L841.1,728.3 L841.6,735.5 L842.1,742.7 L842.5,749.9 L843.0,757.1 L843.5,764.2 L843.9,771.3 L844.4,778.4 L844.8,785.4 L845.3,792.3 L845.8,799.2 L846.2,806.0 L846.7,812.8 L847.1,819.5 L847.6,826.1 L848.1,832.6 L848.5,839.0 L849.0,845.3 L849.4,851.6 L849.9,857.7 L850.4,863.7 L850.8,869.7 L851.3,875.5 L851.7,881.1 L852.2,886.7 L852.7,892.1 L853.1,897.4 L853.6,902.5 L854.1,907.6 L854.5,912.4 L855.0,917.2 L855.4,921.7 L855.9,926.2 L856.4,930.5 L856.8,934.6 L857.3,938.6 L857.7,942.4 L858.2,946.1 L858.7,949.6 L859.1,953.0 L859.6,956.2 L860.0,959.3 L860.5,962.3 L861.0,965.0 L861.4,967.7 L861.9,970.2 L862.3,972.6 L862.8,974.8 L863.3,976.9 L863.7,978.9 L864.2,980.7 L864.6,982.4 L865.1,984.0 L865.6,985.5 L866.0,986.9 L866.5,988.2 L867.0,989.5 L867.4,990.5 L867.9,991.0 L868.3,991.5 L868.8,991.9 L869.3,992.4 L869.7,992.8 L870.2,993.3 L870.6,993.7 L871.1,994.1 L871.6,994.4 L872.0,994.8 L872.5,995.1 L872.9,995.4 L873.4,995.8 L873.9,996.0 L874.3,996.3 L874.8,996.6 L875.2,996.8 L875.7,997.1 L876.2,997.3 L876.6,997.5 L877.1,997.7 L877.5,997.8 L878.0,998.0 L878.5,998.1 L878.9,998.3 L879.4,998.4 L879.9,998.5 L880.3,998.6 L880.8,998.6 L881.2,998.7 L881.7,998.7 L882.2,998.8 L882.6,998.8 L883.1,998.8 L883.5,998.9 L884.0,998.9 L884.5,998.9 L884.9,999.0 L885.4,999.0 L885.8,999.0 L886.3,999.0 L886.8,999.1 L887.2,999.1 L887.7,999.1 L888.1,999.1 L888.6,999.2 L889.1,999.2 L889.5,999.2 L890.0,999.2 L890.4,999.3 L890.9,999.3 L891.4,999.3 L891.8,999.3 L892.3,999.4 L892.8,999.4 L893.2,999.4 L893.7,999.4 L894.1,999.5 L894.6,999.5 L895.1,999.5 L895.5,999.5 L896.0,999.5 L896.4,999.6 L896.9,999.6 L902.4,999.8 L908.0,1000.0 L913.5,1000.2 L919.0,1000.4 L924.5,1000.5 L930.1,1000.6 L935.6,1000.7 L941.1,1000.8 L946.7,1000.9 L952.2,1001.0 L957.7,1001.0 L963.2,1001.1 L968.8,1001.2 L974.3,1001.3 L979.8,1001.4 L985.4,1001.5 L990.9,1001.6 L996.4,1001.7 L1002.0,1001.9 L1007.5,1002.0 L1013.0,1002.1 L1018.5,1002.2 L1024.1,1002.4 L1029.6,1002.5 L1035.1,1002.6 L1040.7,1002.8 L1046.2,1002.9 L1051.7,1003.0 L1057.2,1003.1 L1062.8,1003.2 L1068.3,1003.3 L1073.8,1003.4 L1079.4,1003.5 L1084.9,1003.6 L1090.4,1003.7 L1095.9,1003.8 L1101.5,1003.9 L1107.0,1004.0 L1112.5,1004.0 L1118.1,1004.1 L1123.6,1004.2 L1129.1,1004.3 L1134.6,1004.3 L1140.2,1004.4 L1145.7,1004.5 L1151.2,1004.5 L1156.8,1004.6 L1162.3,1004.6 L1167.8,1004.7 L1173.3,1004.8 L1178.9,1004.8 L1184.4,1004.9 L1189.9,1004.9 L1195.5,1005.0 L1201.0,1005.0 L1206.5,1005.1 L1212.1,1005.1 L1217.6,1005.2 L1223.1,1005.2 L1228.6,1005.3 L1234.2,1005.3 L1239.7,1005.4 L1245.2,1005.4 L1250.8,1005.4 L1256.3,1005.5 L1261.8,1005.5 L1267.3,1005.6 L1272.9,1005.6 L1278.4,1005.7 L1283.9,1005.7 L1289.5,1005.8 L1295.0,1005.8 L1300.5,1005.8 L1306.0,1005.9 L1311.6,1005.9 L1317.1,1006.0 L1322.6,1006.0 L1328.2,1006.0 L1333.7,1006.1 L1339.2,1006.1 L1344.7,1006.1 L1350.3,1006.2 L1355.8,1006.2 L1361.3,1006.3 L1366.9,1006.3 L1372.4,1006.3 L1377.9,1006.4 L1383.5,1006.4 L1389.0,1006.4 L1394.5,1006.4" stroke="#0000ff"/>
<path d="M212.6,134.0 L216.3,134.0 L220.0,134.0 L223.7,134.1 L227.3,134.1 L231.0,134.2 L234.7,134.2 L238.4,134.3 L242.1,134.3 L245.8,134.4 L249.5,134.5 L253.1,134.5 L256.8,134.6 L260.5,134.7 L264.2,134.8 L267.9,134.8 L271.6,134.9 L275.3,135.0 L278.9,135.1 L282.6,135.2 L286.3,135.3 L290.0,135.5 L293.7,135.6 L297.4,135.8 L301.1,135.9 L304.7,136.1 L308.4,136.3 L312.1,136.5 L315.8,136.8 L319.5,137.0 L323.2,137.3 L326.9,137.7 L330.5,138.0 L334.2,138.4 L337.9,138.8 L341.6,139.3 L345.3,139.9 L349.0,140.4 L352.7,141.1 L356.3,141.8 L360.0,142.5 L363.7,143.2 L367.4,144.0 L371.1,144.9 L374.8,145.8 L378.5,146.8 L382.2,147.9 L385.8,148.9 L389.5,149.9 L393.2,151.0 L396.9,152.0 L400.6,153.1 L404.3,154.2 L408.0,155.3 L411.6,156.4 L415.3,157.5 L419.0,158.5 L422.7,159.4 L426.4,160.4 L430.1,161.4 L433.8,162.1 L437.4,162.8 L441.1,163.3 L444.8,163.9 L448.5,164.3 L452.2,164.6 L455.9,164.9 L459.6,165.1 L463.2,165.3 L466.9,165.4 L470.6,165.6 L474.3,165.7 L478.0,165.8 L481.7,165.9 L485.4,166.0 L489.0,166.1 L492.7,166.2 L496.4,166.3 L500.1,166.4 L503.8,166.4 L507.5,166.5 L511.2,166.6 L514.8,166.7 L518.5,166.7 L522.2,166.8 L525.9,166.9 L529.6,166.9 L533.3,167.0 L537.0,167.0 L540.6,167.1 L544.3,167.1 L548.0,167.2 L551.7,167.2 L555.4,167.3 L559.1,167.4 L562.8,167.4 L566.5,167.5 L570.1,167.5 L573.8,167.6 L577.5,167.6 L581.2,167.7 L584.9,167.7 L588.6,167.8 L592.3,167.8 L595.9,167.9 L599.6,168.0 L603.3,168.0 L607.0,168.1 L610.7,168.2 L614.4,168.2 L618.1,168.3 L621.7,168.4 L625.4,168.5 L629.1,168.6 L632.8,168.6 L636.5,168.7 L640.2,168.8 L643.9,168.9 L647.5,169.0 L651.2,169.1 L654.9,169.1 L658.6,169.2 L662.3,169.3 L666.0,169.4 L669.7,169.6 L673.3,169.7 L677.0,169.8 L680.7,169.9 L684.4,170.1 L688.1,170.2 L691.8,170.4 L695.5,170.6 L699.1,170.8 L702.8,171.2 L706.5,171.6 L710.2,172.0 L712.6,172.2 L713.1,172.3 L713.5,172.3 L714.0,172.3 L714.4,172.4 L714.9,172.4 L715.4,172.4 L715.8,172.5 L716.3,172.5 L716.7,172.6 L717.2,172.6 L717.7,172.7 L718.1,172.7 L718.6,172.8 L719.1,172.8 L719.5,172.9 L720.0,172.9 L720.4,173.0 L720.9,173.0 L721.4,173.1 L721.8,173.1 L722.3,173.2 L722.7,173.2 L723.2,173.3 L723.7,173.4 L724.1,173.4 L724.6,173.5 L725.0,173.5 L725.5,173.6 L726.0,173.7 L726.4,173.7 L726.9,173.8 L727.3,173.9 L727.8,173.9 L728.3,174.0 L728.7,174.1 L729.2,174.1 L729.6,174.2 L730.1,174.3 L730.6,174.3 L731.0,174.4 L731.5,174.5 L732.0,174.6 L732.4,174.6 L732.9,174.7 L733.3,174.8 L733.8,174.9 L734.3,175.0 L734.7,175.0 L735.2,175.1 L735.6,175.2 L736.1,175.3 L736.6,175.4 L737.0,175.5 L737.5,175.6 L737.9,175.7 L738.4,175.8 L738.9,175.9 L739.3,176.0 L739.8,176.1 L740.2,176.2 L740.7,176.3 L741.2,176.4 L741.6,176.5 L742.1,176.6 L742.5,176.7 L743.0,176.9 L743.5,177.0 L743.9,177.1 L744.4,177.2 L744.9,177.4 L745.3,177.5 L745.8,177.6 L746.2,177.8 L746.7,177.9 L747.2,178.1 L747.6,178.2 L748.1,178.4 L748.5,178.5 L749.0,178.7 L749.5,178.8 L749.9,179.0 L750.4,179.2 L750.8,179.4 L751.3,179.5 L751.8,179.7 L752.2,179.9 L752.7,180.1 L753.1,180.3 L753.6,180.5 L754.1,180.7 L754.5,180.9 L755.0,181.1 L755.4,181.3 L755.9,181.6 L756.4,181.8 L756.8,182.0 L757.3,182.3 L757.8,182.5 L758.2,182.8 L758.7,183.0 L759.1,183.3 L759.6,183.6 L760.1,183.9 L760.5,184.1 L761.0,184.4 L761.4,184.8 L761.9,185.1 L762.4,185.4 L762.8,185.7 L763.3,186.1 L763.7,186.4 L764.2,186.8 L764.7,187.2 L765.1,187.5 L765.6,187.9 L766.0,188.3 L766.5,188.7 L767.0,189.1 L767.4,189.6 L767.9,190.0 L768.4,190.5 L768.8,190.9 L769.3,191.4 L769.7,191.9 L770.2,192.4 L770.7,192.9 L771.1,193.4 L771.6,193.9 L772.0,194.4 L772.5,195.0 L773.0,195.5 L773.4,196.1 L773.9,196.7 L774.3,197.3 L774.8,197.9 L775.3,198.5 L775.7,199.1 L776.2,199.8 L776.6,200.4 L777.1,201.1 L777.6,201.8 L778.0,202.5 L778.5,203.2 L778.9,203.9 L779.4,204.6 L779.9,205.4 L780.3,206.1 L780.8,206.9 L781.3,207.7 L781.7,208.5 L782.2,209.4 L782.6,210.2 L783.1,211.1 L783.6,212.0 L784.0,212.9 L784.5,213.8 L784.9,214.7 L785.4,215.7 L785.9,216.7 L786.3,217.7 L786.8,218.7 L787.2,219.8 L787.7,220.8 L788.2,221.9 L788.6,223.1 L789.1,224.2 L789.5,225.4 L790.0,226.6 L790.5,227.8 L790.9,229.1 L791.4,230.4 L791.8,231.7 L792.3,233.1 L792.8,234.5 L793.2,235.9 L793.7,237.4 L794.2,238.9 L794.6,240.4 L795.1,242.0 L795.5,243.7 L796.0,245.3 L796.5,247.0 L796.9,248.8 L797.4,250.5 L797.8,252.4 L798.3,254.2 L798.8,256.1 L799.2,258.1 L799.7,260.1 L800.1,262.1 L800.6,264.2 L801.1,266.3 L801.5,268.5 L802.0,270.7 L802.4,273.0 L802.9,275.3 L803.4,277.6 L803.8,280.0 L804.3,282.5 L804.8,285.0 L805.2,287.5 L805.7,290.1 L806.1,292.8 L806.6,295.5 L807.1,298.2 L807.5,301.0 L808.0,303.8 L808.4,306.7 L808.9,309.7 L809.4,312.7 L809.8,315.8 L810.3,318.9 L810.7,322.0 L811.2,325.3 L811.7,328.6 L812.1,331.9 L812.6,335.3 L813.0,338.8 L813.5,342.3 L814.0,345.8 L814.4,349.5 L814.9,353.2 L815.3,356.9 L815.8,360.8 L816.3,364.6 L816.7,368.6 L817.2,372.6 L817.7,376.7 L818.1,380.8 L818.6,385.0 L819.0,389.3 L819.5,393.6 L820.0,398.0 L820.4,402.5 L820.9,407.1 L821.3,411.7 L821.8,416.4 L822.3,421.1 L822.7,426.0 L823.2,430.8 L823.6,435.7 L824.1,440.6 L824.6,445.5 L825.0,450.6 L825.5,455.7 L825.9,460.8 L826.4,466.1 L826.9,471.4 L827.3,476.8 L827.8,482.3 L828.2,487.9 L828.7,493.5 L829.2,499.2 L829.6,505.0 L830.1,510.8 L830.6,516.7 L831.0,522.7 L831.5,528.7 L831.9,534.8 L832.4,541.0 L832.9,547.3 L833.3,553.6 L833.8,559.9 L834.2,566.4 L834.7,573.0 L835.2,579.7 L835.6,586.4 L836.1,593.1 L836.5,600.0 L837.0,606.8 L837.5,613.7 L837.9,620.7 L838.4,627.7 L838.8,634.7 L839.3,641.8 L839.8,648.8 L840.2,655.9 L840.7,663.1 L841.1,670.2 L841.6,677.4 L842.1,684.6 L842.5,691.8 L843.0,699.0 L843.5,706.2 L843.9,713.4 L844.4,720.6 L844.8,727.8 L845.3,734.9 L845.8,742.1 L846.2,749.2 L846.7,756.3 L847.1,763.4 L847.6,770.4 L848.1,777.4 L848.5,784.4 L849.0,791.3 L849.4,798.1 L849.9,804.9 L850.4,811.6 L850.8,818.3 L851.3,824.8 L851.7,831.3 L852.2,837.7 L852.7,844.1 L853.1,850.3 L853.6,856.5 L854.1,862.5 L854.5,868.5 L855.0,874.3 L855.4,880.0 L855.9,885.7 L856.4,891.2 L856.8,896.5 L857.3,901.8 L857.7,906.9 L858.2,911.9 L858.7,916.8 L859.1,921.5 L859.6,926.1 L860.0,930.6 L860.5,934.9 L861.0,939.1 L861.4,943.1 L861.9,947.0 L862.3,950.8 L862.8,954.4 L863.3,957.9 L863.7,961.2 L864.2,964.4 L864.6,967.5 L865.1,970.4 L865.6,973.2 L866.0,975.9 L866.5,978.4 L867.0,981.0 L867.4,983.1 L867.9,984.4 L868.3,985.8 L868.8,987.1 L869.3,988.3 L869.7,989.6 L870.2,990.8 L870.6,992.0 L871.1,993.1 L871.6,994.3 L872.0,995.3 L872.5,996.4 L872.9,997.4 L873.4,998.4 L873.9,999.3 L874.3,1000.2 L874.8,1001.0 L875.2,1001.8 L875.7,1002.6 L876.2,1003.3 L876.6,1004.0 L877.1,1004.6 L877.5,1005.2 L878.0,1005.8 L878.5,1006.2 L878.9,1006.7 L879.4,1007.1 L879.9,1007.4 L880.3,1007.7 L880.8,1007.9 L881.2,1008.1 L881.7,1008.2 L882.2,1008.2 L882.6,1008.3 L883.1,1008.3 L883.5,1008.3 L884.0,1008.4 L884.5,1008.4 L884.9,1008.4 L885.4,1008.5 L885.8,1008.5 L886.3,1008.5 L886.8,1008.5 L887.2,1008.6 L887.7,1008.6 L888.1,1008.6 L888.6,1008.6 L889.1,1008.7 L889.5,1008.7 L890.0,1008.7 L890.4,1008.7 L890.9,1008.8 L891.4,1008.8 L891.8,1008.8 L892.3,1008.8 L892.8,1008.9 L893.2,1008.9 L893.7,1008.9 L894.1,1008.9 L894.6,1009.0 L895.1,1009.0 L895.5,1009.0 L896.0,1009.0 L896.4,1009.0 L896.9,1009.1 L902.4,1009.3 L908.0,1009.5 L913.5,1009.7 L919.0,1009.8 L924.5,1010.0 L930.1,1010.1 L935.6,1010.2 L941.1,1010.3 L946.7,1010.3 L952.2,1010.4 L957.7,1010.5 L963.2,1010.5 L968.8,1010.6 L974.3,1010.7 L979.8,1010.8 L985.4,1010.9 L990.9,1011.0 L996.4,1011.1 L1002.0,1011.2 L1007.5,1011.3 L1013.0,1011.4 L1018.5,1011.6 L1024.1,1011.7 L1029.6,1011.8 L1035.1,1011.9 L1040.7,1012.0 L1046.2,1012.1 L1051.7,1012.2 L1057.2,1012.3 L1062.8,1012.4 L1068.3,1012.5 L1073.8,1012.6 L1079.4,1012.7 L1084.9,1012.8 L1090.4,1012.9 L1095.9,1012.9 L1101.5,1013.0 L1107.0,1013.1 L1112.5,1013.1 L1118.1,1013.2 L1123.6,1013.3 L1129.1,1013.3 L1134.6,1013.4 L1140.2,1013.4 L1145.7,1013.5 L1151.2,1013.6 L1156.8,1013.6 L1162.3,1013.7 L1167.8,1013.7 L1173.3,1013.8 L1178.9,1013.8 L1184.4,1013.9 L1189.9,1013.9 L1195.5,1013.9 L1201.0,1014.0 L1206.5,1014.0 L1212.1,1014.1 L1217.6,1014.1 L1223.1,1014.2 L1228.6,1014.2 L1234.2,1014.3 L1239.7,1014.3 L1245.2,1014.3 L1250.8,1014.4 L1256.3,1014.4 L1261.8,1014.5 L1267.3,1014.5 L1272.9,1014.6 L1278.4,1014.6 L1283.9,1014.6 L1289.5,1014.7 L1295.0,1014.7 L1300.5,1014.8 L1306.0,1014.8 L1311.6,1014.8 L1317.1,1014.9 L1322.6,1014.9 L1328.2,1015.0 L1333.7,1015.0 L1339.2,1015.0 L1344.7,1015.1 L1350.3,1015.1 L1355.8,1015.1 L1361.3,1015.2 L1366.9,1015.2 L1372.4,1015.2 L1377.9,1015.3 L1383.5,1015.3 L1389.0,1015.3 L1394.5,1015.4" stroke="#ff00ff"/>
<path d="M212.6,134.0 L216.3,134.0 L220.0,134.0 L223.7,134.0 L227.3,134.0 L231.0,134.1 L234.7,134.1 L238.4,134.1 L242.1,134.1 L245.8,134.2 L249.5,134.2 L253.1,134.2 L256.8,134.3 L260.5,134.3 L264.2,134.4 L267.9,134.4 L271.6,134.5 L275.3,134.5 L278.9,134.6 L282.6,134.7 L286.3,134.8 L290.0,135.0 L293.7,135.1 L297.4,135.3 L301.1,135.5 L304.7,135.7 L308.4,135.9 L312.1,136.1 L315.8,136.4 L319.5,136.7 L323.2,137.1 L326.9,137.5 L330.5,137.9 L334.2,138.4 L337.9,138.9 L341.6,139.6 L345.3,140.4 L349.0,141.2 L352.7,142.1 L356.3,143.1 L360.0,144.1 L363.7,145.1 L367.4,146.1 L371.1,147.3 L374.8,148.5 L378.5,149.7 L382.2,151.0 L385.8,152.2 L389.5,153.5 L393.2,154.7 L396.9,155.8 L400.6,157.0 L404.3,158.2 L408.0,159.4 L411.6,160.6 L415.3,161.8 L419.0,163.0 L422.7,164.3 L426.4,165.7 L430.1,167.0 L433.8,168.4 L437.4,169.7 L441.1,171.0 L444.8,172.2 L448.5,173.4 L452.2,174.5 L455.9,175.7 L459.6,176.7 L463.2,177.6 L466.9,178.5 L470.6,179.3 L474.3,180.1 L478.0,180.8 L481.7,181.3 L485.4,181.6 L489.0,181.9 L492.7,182.2 L496.4,182.4 L500.1,182.6 L503.8,182.8 L507.5,183.0 L511.2,183.2 L514.8,183.3 L518.5,183.5 L522.2,183.6 L525.9,183.7 L529.6,183.9 L533.3,184.0 L537.0,184.1 L540.6,184.2 L544.3,184.3 L548.0,184.4 L551.7,184.5 L555.4,184.6 L559.1,184.7 L562.8,184.8 L566.5,184.9 L570.1,185.1 L573.8,185.2 L577.5,185.3 L581.2,185.4 L584.9,185.5 L588.6,185.6 L592.3,185.7 L595.9,185.8 L599.6,186.0 L603.3,186.1 L607.0,186.2 L610.7,186.3 L614.4,186.5 L618.1,186.6 L621.7,186.7 L625.4,186.9 L629.1,187.0 L632.8,187.2 L636.5,187.4 L640.2,187.5 L643.9,187.7 L647.5,187.9 L651.2,188.1 L654.9,188.2 L658.6,188.4 L662.3,188.6 L666.0,188.8 L669.7,189.0 L673.3,189.2 L677.0,189.4 L680.7,189.7 L684.4,189.9 L688.1,190.1 L691.8,190.4 L695.5,190.7 L699.1,191.0 L702.8,191.4 L706.5,191.8 L710.2,192.3 L712.6,192.6 L713.1,192.6 L713.5,192.7 L714.0,192.8 L714.4,192.8 L714.9,192.9 L715.4,192.9 L715.8,193.0 L716.3,193.1 L716.7,193.1 L717.2,193.2 L717.7,193.2 L718.1,193.3 L718.6,193.4 L719.1,193.4 L719.5,193.5 L720.0,193.5 L720.4,193.6 L720.9,193.6 L721.4,193.7 L721.8,193.8 L722.3,193.8 L722.7,193.9 L723.2,193.9 L723.7,194.0 L724.1,194.1 L724.6,194.1 L725.0,194.2 L725.5,194.3 L726.0,194.3 L726.4,194.4 L726.9,194.5 L727.3,194.6 L727.8,194.6 L728.3,194.7 L728.7,194.8 L729.2,194.9 L729.6,195.0 L730.1,195.1 L730.6,195.2 L731.0,195.2 L731.5,195.3 L732.0,195.4 L732.4,195.5 L732.9,195.6 L733.3,195.7 L733.8,195.8 L734.3,195.9 L734.7,196.0 L735.2,196.2 L735.6,196.3 L736.1,196.4 L736.6,196.5 L737.0,196.6 L737.5,196.7 L737.9,196.8 L738.4,197.0 L738.9,197.1 L739.3,197.2 L739.8,197.3 L740.2,197.5 L740.7,197.6 L741.2,197.7 L741.6,197.9 L742.1,198.0 L742.5,198.2 L743.0,198.3 L743.5,198.5 L743.9,198.6 L744.4,198.8 L744.9,199.0 L745.3,199.1 L745.8,199.3 L746.2,199.5 L746.7,199.7 L747.2,199.9 L747.6,200.1 L748.1,200.3 L748.5,200.5 L749.0,200.7 L749.5,200.9 L749.9,201.2 L750.4,201.4 L750.8,201.6 L751.3,201.9 L751.8,202.1 L752.2,202.4 L752.7,202.6 L753.1,202.9 L753.6,203.2 L754.1,203.4 L754.5,203.7 L755.0,204.0 L755.4,204.3 L755.9,204.6 L756.4,204.9 L756.8,205.2 L757.3,205.6 L757.8,205.9 L758.2,206.2 L758.7,206.6 L759.1,206.9 L759.6,207.3 L760.1,207.6 L760.5,208.0 L761.0,208.4 L761.4,208.7 L761.9,209.1 L762.4,209.5 L762.8,209.9 L763.3,210.3 L763.7,210.7 L764.2,211.1 L764.7,211.5 L765.1,212.0 L765.6,212.4 L766.0,212.8 L766.5,213.3 L767.0,213.7 L767.4,214.2 L767.9,214.6 L768.4,215.1 L768.8,215.6 L769.3,216.1 L769.7,216.6 L770.2,217.1 L770.7,217.6 L771.1,218.1 L771.6,218.7 L772.0,219.2 L772.5,219.8 L773.0,220.3 L773.4,220.9 L773.9,221.5 L774.3,222.1 L774.8,222.7 L775.3,223.3 L775.7,223.9 L776.2,224.6 L776.6,225.2 L777.1,225.9 L777.6,226.6 L778.0,227.3 L778.5,228.0 L778.9,228.7 L779.4,229.4 L779.9,230.2 L780.3,231.0 L780.8,231.8 L781.3,232.6 L781.7,233.4 L782.2,234.3 L782.6,235.1 L783.1,236.0 L783.6,236.9 L784.0,237.9 L784.5,238.8 L784.9,239.8 L785.4,240.8 L785.9,241.8 L786.3,242.8 L786.8,243.9 L787.2,245.0 L787.7,246.1 L788.2,247.3 L788.6,248.5 L789.1,249.7 L789.5,250.9 L790.0,252.2 L790.5,253.5 L790.9,254.8 L791.4,256.2 L791.8,257.6 L792.3,259.0 L792.8,260.5 L793.2,262.0 L793.7,263.5 L794.2,265.1 L794.6,266.7 L795.1,268.3 L795.5,270.0 L796.0,271.7 L796.5,273.5 L796.9,275.3 L797.4,277.1 L797.8,279.0 L798.3,280.9 L798.8,282.9 L799.2,284.9 L799.7,286.9 L800.1,289.0 L800.6,291.1 L801.1,293.3 L801.5,295.5 L802.0,297.8 L802.4,300.1 L802.9,302.4 L803.4,304.8 L803.8,307.3 L804.3,309.8 L804.8,312.3 L805.2,314.9 L805.7,317.6 L806.1,320.2 L806.6,323.0 L807.1,325.8 L807.5,328.6 L808.0,331.6 L808.4,334.5 L808.9,337.5 L809.4,340.6 L809.8,343.7 L810.3,346.9 L810.7,350.2 L811.2,353.5 L811.7,356.8 L812.1,360.3 L812.6,363.8 L813.0,367.3 L813.5,370.9 L814.0,374.6 L814.4,378.4 L814.9,382.2 L815.3,386.0 L815.8,390.0 L816.3,394.0 L816.7,398.1 L817.2,402.2 L817.7,406.5 L818.1,410.7 L818.6,415.1 L819.0,419.5 L819.5,424.1 L820.0,428.6 L820.4,433.3 L820.9,438.0 L821.3,442.8 L821.8,447.7 L822.3,452.7 L822.7,457.7 L823.2,462.8 L823.6,467.9 L824.1,473.0 L824.6,478.2 L825.0,483.6 L825.5,488.9 L825.9,494.4 L826.4,499.9 L826.9,505.5 L827.3,511.2 L827.8,516.9 L828.2,522.8 L828.7,528.7 L829.2,534.6 L829.6,540.7 L830.1,546.8 L830.6,553.0 L831.0,559.2 L831.5,565.5 L831.9,571.9 L832.4,578.3 L832.9,584.8 L833.3,591.4 L833.8,598.0 L834.2,604.6 L834.7,611.4 L835.2,618.3 L835.6,625.2 L836.1,632.2 L836.5,639.1 L837.0,646.2 L837.5,653.2 L837.9,660.3 L838.4,667.4 L838.8,674.6 L839.3,681.7 L839.8,688.9 L840.2,696.1 L840.7,703.2 L841.1,710.4 L841.6,717.6 L842.1,724.8 L842.5,732.0 L843.0,739.2 L843.5,746.3 L843.9,753.4 L844.4,760.5 L844.8,767.6 L845.3,774.6 L845.8,781.6 L846.2,788.6 L846.7,795.5 L847.1,802.3 L847.6,809.1 L848.1,815.8 L848.5,822.4 L849.0,828.9 L849.4,835.4 L849.9,841.8 L850.4,848.1 L850.8,854.3 L851.3,860.4 L851.7,866.4 L852.2,872.2 L852.7,878.0 L853.1,883.7 L853.6,889.2 L854.1,894.6 L854.5,899.9 L855.0,905.0 L855.4,910.0 L855.9,914.9 L856.4,919.6 L856.8,924.2 L857.3,928.7 L857.7,933.0 L858.2,937.2 L858.7,941.2 L859.1,945.1 L859.6,948.8 L860.0,952.4 L860.5,955.8 L861.0,959.1 L861.4,962.2 L861.9,965.2 L862.3,968.1 L862.8,970.8 L863.3,973.3 L863.7,975.8 L864.2,978.1 L864.6,980.2 L865.1,982.3 L865.6,984.2 L866.0,986.0 L866.5,987.7 L867.0,989.4 L867.4,990.7 L867.9,991.5 L868.3,992.2 L868.8,992.9 L869.3,993.6 L869.7,994.3 L870.2,994.9 L870.6,995.5 L871.1,996.1 L871.6,996.7 L872.0,997.2 L872.5,997.7 L872.9,998.2 L873.4,998.7 L873.9,999.2 L874.3,999.6 L874.8,1000.0 L875.2,1000.4 L875.7,1000.8 L876.2,1001.1 L876.6,1001.4 L877.1,1001.7 L877.5,1002.0 L878.0,1002.2 L878.5,1002.5 L878.9,1002.7 L879.4,1002.8 L879.9,1003.0 L880.3,1003.1 L880.8,1003.2 L881.2,1003.3 L881.7,1003.4 L882.2,1003.4 L882.6,1003.5 L883.1,1003.5 L883.5,1003.5 L884.0,1003.5 L884.5,1003.6 L884.9,1003.6 L885.4,1003.6 L885.8,1003.6 L886.3,1003.7 L886.8,1003.7 L887.2,1003.7 L887.7,1003.7 L888.1,1003.8 L888.6,1003.8 L889.1,1003.8 L889.5,1003.8 L890.0,1003.9 L890.4,1003.9 L890.9,1003.9 L891.4,1003.9 L891.8,1004.0 L892.3,1004.0 L892.8,1004.0 L893.2,1004.0 L893.7,1004.1 L894.1,1004.1 L894.6,1004.1 L895.1,1004.1 L895.5,1004.1 L896.0,1004.2 L896.4,1004.2 L896.9,1004.2 L902.4,1004.4 L908.0,1004.6 L913.5,1004.8 L919.0,1004.9 L924.5,1005.1 L930.1,1005.2 L935.6,1005.3 L941.1,1005.3 L946.7,1005.4 L952.2,1005.5 L957.7,1005.5 L963.2,1005.6 L968.8,1005.7 L974.3,1005.7 L979.8,1005.8 L985.4,1005.9 L990.9,1006.1 L996.4,1006.2 L1002.0,1006.3 L1007.5,1006.4 L1013.0,1006.6 L1018.5,1006.7 L1024.1,1006.8 L1029.6,1006.9 L1035.1,1007.1 L1040.7,1007.2 L1046.2,1007.3 L1051.7,1007.4 L1057.2,1007.5 L1062.8,1007.7 L1068.3,1007.8 L1073.8,1007.9 L1079.4,1008.0 L1084.9,1008.0 L1090.4,1008.1 L1095.9,1008.2 L1101.5,1008.3 L1107.0,1008.3 L1112.5,1008.4 L1118.1,1008.5 L1123.6,1008.5 L1129.1,1008.6 L1134.6,1008.6 L1140.2,1008.7 L1145.7,1008.7 L1151.2,1008.8 L1156.8,1008.8 L1162.3,1008.9 L1167.8,1008.9 L1173.3,1008.9 L1178.9,1009.0 L1184.4,1009.0 L1189.9,1009.1 L1195.5,1009.1 L1201.0,1009.1 L1206.5,1009.2 L1212.1,1009.2 L1217.6,1009.3 L1223.1,1009.3 L1228.6,1009.3 L1234.2,1009.4 L1239.7,1009.4 L1245.2,1009.4 L1250.8,1009.5 L1256.3,1009.5 L1261.8,1009.6 L1267.3,1009.6 L1272.9,1009.6 L1278.4,1009.7 L1283.9,1009.7 L1289.5,1009.8 L1295.0,1009.8 L1300.5,1009.8 L1306.0,1009.9 L1311.6,1009.9 L1317.1,1010.0 L1322.6,1010.0 L1328.2,1010.0 L1333.7,1010.1 L1339.2,1010.1 L1344.7,1010.1 L1350.3,1010.2 L1355.8,1010.2 L1361.3,1010.2 L1366.9,1010.3 L1372.4,1010.3 L1377.9,1010.4 L1383.5,1010.4 L1389.0,1010.4 L1394.5,1010.5" stroke="#008000"/>
</g>
<rect x="188" y="1024.3" width="17" height="5.4" fill="#000"/>
<text x="173.5" y="1040.7" font-size="45.5" text-anchor="end">0</text>
<rect x="188" y="845.7" width="17" height="5.4" fill="#000"/>
<text x="173.5" y="862.1" font-size="45.5" text-anchor="end">20</text>
<rect x="188" y="667.1" width="17" height="5.4" fill="#000"/>
<text x="173.5" y="683.5" font-size="45.5" text-anchor="end">40</text>
<rect x="188" y="488.5" width="17" height="5.4" fill="#000"/>
<text x="173.5" y="504.9" font-size="45.5" text-anchor="end">60</text>
<rect x="188" y="309.9" width="17" height="5.4" fill="#000"/>
<text x="173.5" y="326.3" font-size="45.5" text-anchor="end">80</text>
<rect x="188" y="131.3" width="17" height="5.4" fill="#000"/>
<text x="173.5" y="147.7" font-size="45.5" text-anchor="end">100</text>
<rect x="196" y="936.2" width="9" height="3" fill="#000"/>
<rect x="196" y="757.6" width="9" height="3" fill="#000"/>
<rect x="196" y="579.0" width="9" height="3" fill="#000"/>
<rect x="196" y="400.4" width="9" height="3" fill="#000"/>
<rect x="196" y="221.8" width="9" height="3" fill="#000"/>
<rect x="341.2" y="1029" width="5.6" height="17" fill="#000"/>
<text x="344.5" y="1094" font-size="45.5" text-anchor="middle">100</text>
<rect x="525.5" y="1029" width="5.6" height="17" fill="#000"/>
<text x="528.8" y="1094" font-size="45.5" text-anchor="middle">200</text>
<rect x="709.8" y="1029" width="5.6" height="17" fill="#000"/>
<text x="713.1" y="1094" font-size="45.5" text-anchor="middle">300</text>
<rect x="894.1" y="1029" width="5.6" height="17" fill="#000"/>
<text x="897.4" y="1094" font-size="45.5" text-anchor="middle">400</text>
<rect x="1078.4" y="1029" width="5.6" height="17" fill="#000"/>
<text x="1081.7" y="1094" font-size="45.5" text-anchor="middle">500</text>
<rect x="1262.7" y="1029" width="5.6" height="17" fill="#000"/>
<text x="1266.0" y="1094" font-size="45.5" text-anchor="middle">600</text>
<rect x="249.2" y="1029" width="5.4" height="6" fill="#000"/>
<rect x="433.4" y="1029" width="5.4" height="6" fill="#000"/>
<rect x="617.8" y="1029" width="5.4" height="6" fill="#000"/>
<rect x="802.0" y="1029" width="5.4" height="6" fill="#000"/>
<rect x="986.3" y="1029" width="5.4" height="6" fill="#000"/>
<rect x="1170.6" y="1029" width="5.4" height="6" fill="#000"/>
<rect x="1355.0" y="1029" width="5.4" height="6" fill="#000"/>
<text x="754.7" y="1214" font-size="56.2" text-anchor="middle">Temperature (°C)</text>
<text transform="translate(70.5,536.7) rotate(-90)" font-size="56.8" text-anchor="middle">weight %</text>
<rect x="1309" y="74" width="54.5" height="68.5" fill="#fff" stroke="#000" stroke-width="5.4"/>
<text x="1338.5" y="123" font-size="56" text-anchor="middle">a</text>
<rect x="252.3" y="743.9" width="94.7" height="4" fill="#000000"/>
<text x="354.5" y="759.1" font-size="39">Neat PLLA</text>
<rect x="252.3" y="793.4" width="94.7" height="4" fill="#ff0000"/>
<text x="354.5" y="808.6" font-size="39">PLLA_Lignin</text>
<rect x="252.3" y="844.2" width="94.7" height="4" fill="#0000ff"/>
<text x="354.5" y="859.4" font-size="39">PLLA_Lignin_MWCNT</text>
<rect x="252.3" y="894.1" width="94.7" height="4" fill="#ff00ff"/>
<text x="354.5" y="909.3" font-size="39">PLLA_Lignin_rGO</text>
<rect x="252.3" y="944.4" width="94.7" height="4" fill="#008000"/>
<text x="354.5" y="959.6" font-size="39">PLLA_Lignin_C30B</text>
<rect x="207" y="1463" width="1185" height="18" fill="#fff"/>
<rect x="207" y="1463" width="8" height="978" fill="#fff"/>
<rect x="185.5" y="1458" width="1209.5" height="5.4" fill="#000"/>
<rect x="202" y="1458" width="5.4" height="1004" fill="#000"/>
<rect x="185.5" y="2440.8" width="1209.5" height="5.5" fill="#000"/>
<rect x="1380" y="1463" width="11" height="978" fill="#fff"/>
<rect x="1390" y="1463" width="2.5" height="978" fill="#c4c1cf"/>
<rect x="1392.2" y="1458" width="2.8" height="988" fill="#000"/>
<g clip-path="url(#cb)" fill="none" stroke-width="8.5" stroke-linejoin="round">
<path d="M204.5,1593.2 L205.7,1593.3 L206.9,1593.4 L208.1,1593.5 L209.3,1593.5 L210.4,1593.6 L211.6,1593.7 L212.8,1593.8 L214.0,1593.8 L215.2,1593.9 L216.4,1594.0 L217.6,1594.1 L218.8,1594.1 L219.9,1594.2 L221.1,1594.3 L222.3,1594.4 L223.5,1594.4 L224.7,1594.5 L225.9,1594.6 L227.1,1594.7 L228.3,1594.7 L229.4,1594.8 L230.6,1594.9 L231.8,1595.0 L233.0,1595.0 L234.2,1595.1 L235.4,1595.2 L236.6,1595.3 L237.8,1595.3 L238.9,1595.4 L240.1,1595.5 L241.3,1595.6 L242.5,1595.6 L243.7,1595.7 L244.9,1595.8 L246.1,1595.9 L247.3,1596.0 L248.4,1596.0 L249.6,1596.1 L250.8,1596.2 L252.0,1596.3 L253.2,1596.4 L254.4,1596.4 L255.6,1596.5 L256.8,1596.6 L257.9,1596.7 L259.1,1596.8 L260.3,1596.8 L261.5,1596.9 L262.7,1597.0 L263.9,1597.1 L265.1,1597.2 L266.3,1597.3 L267.4,1597.3 L268.6,1597.4 L269.8,1597.5 L271.0,1597.6 L272.2,1597.7 L273.4,1597.8 L274.6,1597.9 L275.8,1598.0 L276.9,1598.0 L278.1,1598.1 L279.3,1598.2 L280.5,1598.3 L281.7,1598.4 L282.9,1598.5 L284.1,1598.6 L285.3,1598.7 L286.4,1598.8 L287.6,1598.9 L288.8,1599.0 L290.0,1599.1 L291.2,1599.2 L292.4,1599.3 L293.6,1599.4 L294.8,1599.5 L295.9,1599.6 L297.1,1599.7 L298.3,1599.8 L299.5,1599.9 L300.7,1600.0 L301.9,1600.1 L303.1,1600.2 L304.3,1600.3 L305.4,1600.5 L306.6,1600.6 L307.8,1600.7 L309.0,1600.8 L310.2,1600.9 L311.4,1601.0 L312.6,1601.2 L313.8,1601.3 L314.9,1601.4 L316.1,1601.5 L317.3,1601.6 L318.5,1601.8 L319.7,1601.9 L320.9,1602.0 L322.1,1602.1 L323.3,1602.3 L324.4,1602.4 L325.6,1602.5 L326.8,1602.7 L328.0,1602.8 L329.2,1602.9 L330.4,1603.1 L331.6,1603.2 L332.8,1603.3 L333.9,1603.5 L335.1,1603.6 L336.3,1603.8 L337.5,1603.9 L338.7,1604.0 L339.9,1604.2 L341.1,1604.3 L342.3,1604.5 L343.4,1604.6 L344.6,1604.8 L345.8,1604.9 L347.0,1605.1 L348.2,1605.3 L349.4,1605.4 L350.6,1605.6 L351.8,1605.7 L352.9,1605.9 L354.1,1606.0 L355.3,1606.2 L356.5,1606.4 L357.7,1606.5 L358.9,1606.7 L360.1,1606.9 L361.3,1607.0 L362.4,1607.2 L363.6,1607.4 L364.8,1607.6 L366.0,1607.7 L367.2,1607.9 L368.4,1608.1 L369.6,1608.3 L370.8,1608.4 L371.9,1608.6 L373.1,1608.8 L374.3,1609.0 L375.5,1609.2 L376.7,1609.3 L377.9,1609.5 L379.1,1609.7 L380.3,1609.9 L381.4,1610.1 L382.6,1610.3 L383.8,1610.5 L385.0,1610.7 L386.2,1610.9 L387.4,1611.1 L388.6,1611.3 L389.8,1611.5 L390.9,1611.7 L392.1,1611.8 L393.3,1612.0 L394.5,1612.2 L395.7,1612.5 L396.9,1612.7 L398.1,1612.9 L399.3,1613.1 L400.4,1613.3 L401.6,1613.5 L402.8,1613.7 L404.0,1613.9 L405.2,1614.1 L406.4,1614.3 L407.6,1614.5 L408.8,1614.7 L409.9,1615.0 L411.1,1615.2 L412.3,1615.4 L413.5,1615.6 L414.7,1615.8 L415.9,1616.0 L417.1,1616.3 L418.3,1616.5 L419.4,1616.7 L420.6,1616.9 L421.8,1617.1 L423.0,1617.4 L424.2,1617.6 L425.4,1617.8 L426.6,1618.1 L427.8,1618.3 L428.9,1618.5 L430.1,1618.8 L431.3,1619.0 L432.5,1619.2 L433.7,1619.5 L434.9,1619.7 L436.1,1619.9 L437.3,1620.2 L438.4,1620.4 L439.6,1620.7 L440.8,1620.9 L442.0,1621.1 L443.2,1621.4 L444.4,1621.6 L445.6,1621.9 L446.8,1622.1 L447.9,1622.4 L449.1,1622.6 L450.3,1622.9 L451.5,1623.2 L452.7,1623.4 L453.9,1623.7 L455.1,1623.9 L456.3,1624.2 L457.4,1624.5 L458.6,1624.7 L459.8,1625.0 L461.0,1625.3 L462.2,1625.5 L463.4,1625.8 L464.6,1626.1 L465.8,1626.4 L466.9,1626.6 L468.1,1626.9 L469.3,1627.2 L470.5,1627.5 L471.7,1627.8 L472.9,1628.1 L474.1,1628.4 L475.3,1628.6 L476.4,1628.9 L477.6,1629.2 L478.8,1629.5 L480.0,1629.8 L481.2,1630.1 L482.4,1630.4 L483.6,1630.8 L484.8,1631.1 L485.9,1631.4 L487.1,1631.7 L488.3,1632.0 L489.5,1632.3 L490.7,1632.7 L491.9,1633.0 L493.1,1633.3 L494.3,1633.6 L495.4,1634.0 L496.6,1634.3 L497.8,1634.6 L499.0,1635.0 L500.2,1635.3 L501.4,1635.7 L502.6,1636.0 L503.8,1636.4 L504.9,1636.7 L506.1,1637.1 L507.3,1637.5 L508.5,1637.8 L509.7,1638.2 L510.9,1638.6 L512.1,1638.9 L513.3,1639.3 L514.4,1639.7 L515.6,1640.1 L516.8,1640.5 L518.0,1640.8 L519.2,1641.2 L520.4,1641.6 L521.6,1642.0 L522.8,1642.4 L523.9,1642.8 L525.1,1643.3 L526.3,1643.7 L527.5,1644.1 L528.7,1644.5 L529.9,1644.9 L531.1,1645.4 L532.3,1645.8 L533.4,1646.2 L534.6,1646.7 L535.8,1647.1 L537.0,1647.6 L538.2,1648.0 L539.4,1648.5 L540.6,1648.9 L541.8,1649.4 L542.9,1649.9 L544.1,1650.3 L545.3,1650.8 L546.5,1651.3 L547.7,1651.8 L548.9,1652.3 L550.1,1652.8 L551.3,1653.3 L552.4,1653.8 L553.6,1654.3 L554.8,1654.8 L556.0,1655.3 L557.2,1655.8 L558.4,1656.3 L559.6,1656.9 L560.8,1657.4 L561.9,1657.9 L563.1,1658.5 L564.3,1659.0 L565.5,1659.6 L566.7,1660.1 L567.9,1660.7 L569.1,1661.2 L570.3,1661.8 L571.4,1662.4 L572.6,1663.0 L573.8,1663.5 L575.0,1664.1 L576.2,1664.7 L577.4,1665.3 L578.6,1665.9 L579.8,1666.5 L580.9,1667.1 L582.1,1667.8 L583.3,1668.4 L584.5,1669.0 L585.7,1669.6 L586.9,1670.3 L588.1,1670.9 L589.3,1671.6 L590.4,1672.2 L591.6,1672.9 L592.8,1673.6 L594.0,1674.2 L595.2,1674.9 L596.4,1675.6 L597.6,1676.3 L598.8,1677.0 L599.9,1677.7 L601.1,1678.4 L602.3,1679.1 L603.5,1679.8 L604.7,1680.5 L605.9,1681.3 L607.1,1682.0 L608.3,1682.7 L609.4,1683.5 L610.6,1684.2 L611.8,1685.0 L613.0,1685.8 L614.2,1686.5 L615.4,1687.3 L616.6,1688.1 L617.8,1688.9 L618.9,1689.7 L620.1,1690.5 L621.3,1691.3 L622.5,1692.1 L623.7,1693.0 L624.9,1693.8 L626.1,1694.6 L627.3,1695.5 L628.4,1696.3 L629.6,1697.2 L630.8,1698.1 L632.0,1698.9 L633.2,1699.8 L634.4,1700.7 L635.6,1701.6 L636.8,1702.5 L637.9,1703.4 L639.1,1704.4 L640.3,1705.3 L641.5,1706.2 L642.7,1707.2 L643.9,1708.1 L645.1,1709.1 L646.3,1710.1 L647.4,1711.1 L648.6,1712.1 L649.8,1713.1 L651.0,1714.1 L652.2,1715.1 L653.4,1716.1 L654.6,1717.1 L655.8,1718.2 L656.9,1719.2 L658.1,1720.3 L659.3,1721.4 L660.5,1722.4 L661.7,1723.5 L662.9,1724.6 L664.1,1725.7 L665.3,1726.9 L666.4,1728.0 L667.6,1729.1 L668.8,1730.3 L670.0,1731.4 L671.2,1732.6 L672.4,1733.8 L673.6,1735.0 L674.8,1736.2 L675.9,1737.4 L677.1,1738.6 L678.3,1739.9 L679.5,1741.1 L680.7,1742.4 L681.9,1743.6 L683.1,1744.9 L684.3,1746.2 L685.4,1747.5 L686.6,1748.8 L687.8,1750.1 L689.0,1751.5 L690.2,1752.8 L691.4,1754.2 L692.6,1755.6 L693.8,1756.9 L694.9,1758.3 L696.1,1759.8 L697.3,1761.2 L698.5,1762.6 L699.7,1764.1 L700.9,1765.5 L702.1,1767.0 L703.3,1768.5 L704.4,1770.0 L705.6,1771.5 L706.8,1773.1 L708.0,1774.6 L709.2,1776.2 L710.4,1777.7 L711.6,1779.3 L712.8,1780.9 L713.9,1782.5 L715.1,1784.2 L716.3,1785.8 L717.5,1787.5 L718.7,1789.1 L719.9,1790.8 L721.1,1792.5 L722.3,1794.3 L723.4,1796.0 L724.6,1797.7 L725.8,1799.5 L727.0,1801.3 L728.2,1803.1 L729.4,1804.9 L730.6,1806.7 L731.8,1808.6 L732.9,1810.4 L734.1,1812.3 L735.3,1814.2 L736.5,1816.1 L737.7,1818.0 L738.9,1820.0 L740.1,1821.9 L741.3,1823.9 L742.4,1825.9 L743.6,1827.9 L744.8,1829.9 L746.0,1831.9 L747.2,1834.0 L748.4,1836.1 L749.6,1838.2 L750.8,1840.3 L751.9,1842.4 L753.1,1844.5 L754.3,1846.7 L755.5,1848.9 L756.7,1851.1 L757.9,1853.3 L759.1,1855.5 L760.3,1857.7 L761.4,1860.0 L762.6,1862.3 L763.8,1864.6 L765.0,1866.9 L766.2,1869.2 L767.4,1871.6 L768.6,1874.0 L769.8,1876.4 L770.9,1878.8 L772.1,1881.2 L773.3,1883.7 L774.5,1886.1 L775.7,1888.6 L776.9,1891.1 L778.1,1893.6 L779.3,1896.2 L780.4,1898.7 L781.6,1901.3 L782.8,1903.9 L784.0,1906.5 L785.2,1909.2 L786.4,1911.9 L787.6,1914.5 L788.8,1917.2 L789.9,1920.0 L791.1,1922.7 L792.3,1925.5 L793.5,1928.3 L794.7,1931.1 L795.9,1933.9 L797.1,1936.7 L798.3,1939.6 L799.4,1942.5 L800.6,1945.4 L801.8,1948.3 L803.0,1951.3 L804.2,1954.3 L805.4,1957.3 L806.6,1960.3 L807.8,1963.3 L808.9,1966.4 L810.1,1969.5 L811.3,1972.6 L812.5,1975.7 L813.7,1978.9 L814.9,1982.0 L816.1,1985.2 L817.3,1988.5 L818.4,1991.7 L819.6,1995.0 L820.8,1998.3 L822.0,2001.6 L823.2,2004.9 L824.4,2008.3 L825.6,2011.7 L826.8,2015.1 L827.9,2018.5 L829.1,2022.0 L830.3,2025.5 L831.5,2029.0 L832.7,2032.5 L833.9,2036.1 L835.1,2039.7 L836.3,2043.3 L837.4,2046.9 L838.6,2050.6 L839.8,2054.3 L841.0,2058.0 L842.2,2061.7 L843.4,2065.5 L844.6,2069.3 L845.8,2073.1 L846.9,2076.9 L848.1,2080.8 L849.3,2084.7 L850.5,2088.6 L851.7,2092.6 L852.9,2096.6 L854.1,2100.6 L855.3,2104.6 L856.4,2108.6 L857.6,2112.7 L858.8,2116.8 L860.0,2121.0 L861.2,2125.1 L862.4,2129.3 L863.6,2133.6 L864.8,2137.8 L865.9,2142.1 L867.1,2146.4 L868.3,2150.7 L869.5,2155.1 L870.7,2159.5 L871.9,2163.9 L873.1,2168.4 L874.3,2172.8 L875.4,2177.3 L876.6,2181.9 L877.8,2186.4 L879.0,2191.0 L880.2,2195.7 L881.4,2200.3 L882.6,2205.0 L883.8,2209.7 L884.9,2214.4 L886.1,2219.2 L887.3,2224.0 L888.5,2228.9 L889.7,2233.7 L890.9,2238.6 L892.1,2243.5 L893.3,2248.5 L894.4,2253.5 L895.6,2258.5 L896.8,2263.5 L898.0,2268.6 L899.2,2273.7 L900.4,2278.8 L901.6,2284.0 L902.8,2289.2 L903.9,2294.4 L905.1,2299.7 L906.3,2305.0 L907.5,2310.3 L908.7,2315.7 L909.9,2321.0 L911.1,2326.4 L912.3,2331.9 L913.4,2337.4 L914.6,2342.9 L915.8,2348.5 L917.0,2354.0 L918.2,2359.5 L919.4,2365.0 L920.6,2370.5 L921.8,2376.0 L922.9,2381.6 L924.1,2387.2 L925.3,2392.8 L926.5,2398.5 L927.7,2404.2 L928.9,2409.9 L930.1,2415.7 L931.3,2421.5 L932.4,2427.3 L933.6,2433.2 L934.8,2439.0 L936.0,2445.0 L937.2,2450.9 L938.4,2456.9 L939.6,2462.9 L940.8,2468.9 L941.9,2475.0 L943.1,2481.1 L944.3,2487.2 L945.5,2493.4 L946.7,2499.6 L947.9,2505.8 L949.1,2512.0 L950.3,2518.3 L951.4,2524.6 L952.6,2530.9 L953.8,2537.3 L955.0,2543.7 L956.2,2550.1 L957.4,2556.5 L958.6,2563.0 L959.8,2569.5 L960.9,2576.1 L962.1,2582.6 L963.3,2589.2 L964.5,2595.8 L965.7,2602.5 L966.9,2609.1 L968.1,2615.8 L969.3,2622.5 L970.4,2629.3 L971.6,2636.1 L972.8,2642.9 L974.0,2649.7 L975.2,2656.5 L976.4,2663.4 L977.6,2670.3 L978.8,2677.2 L979.9,2684.2 L981.1,2691.1 L982.3,2698.1 L983.5,2705.1 L984.7,2712.2 L985.9,2719.2 L987.1,2726.3" stroke="#000000"/>
<path d="M204.5,1573.1 L205.7,1573.1 L206.9,1573.2 L208.1,1573.2 L209.3,1573.3 L210.4,1573.3 L211.6,1573.4 L212.8,1573.4 L214.0,1573.4 L215.2,1573.5 L216.4,1573.5 L217.6,1573.6 L218.8,1573.6 L219.9,1573.7 L221.1,1573.7 L222.3,1573.8 L223.5,1573.8 L224.7,1573.9 L225.9,1573.9 L227.1,1573.9 L228.3,1574.0 L229.4,1574.0 L230.6,1574.1 L231.8,1574.1 L233.0,1574.2 L234.2,1574.2 L235.4,1574.3 L236.6,1574.3 L237.8,1574.4 L238.9,1574.4 L240.1,1574.5 L241.3,1574.5 L242.5,1574.6 L243.7,1574.6 L244.9,1574.6 L246.1,1574.7 L247.3,1574.7 L248.4,1574.8 L249.6,1574.8 L250.8,1574.9 L252.0,1574.9 L253.2,1575.0 L254.4,1575.0 L255.6,1575.1 L256.8,1575.1 L257.9,1575.2 L259.1,1575.2 L260.3,1575.3 L261.5,1575.4 L262.7,1575.4 L263.9,1575.5 L265.1,1575.5 L266.3,1575.6 L267.4,1575.6 L268.6,1575.7 L269.8,1575.7 L271.0,1575.8 L272.2,1575.8 L273.4,1575.9 L274.6,1576.0 L275.8,1576.0 L276.9,1576.1 L278.1,1576.1 L279.3,1576.2 L280.5,1576.2 L281.7,1576.3 L282.9,1576.4 L284.1,1576.4 L285.3,1576.5 L286.4,1576.6 L287.6,1576.6 L288.8,1576.7 L290.0,1576.8 L291.2,1576.8 L292.4,1576.9 L293.6,1577.0 L294.8,1577.0 L295.9,1577.1 L297.1,1577.2 L298.3,1577.2 L299.5,1577.3 L300.7,1577.4 L301.9,1577.4 L303.1,1577.5 L304.3,1577.6 L305.4,1577.7 L306.6,1577.7 L307.8,1577.8 L309.0,1577.9 L310.2,1578.0 L311.4,1578.0 L312.6,1578.1 L313.8,1578.2 L314.9,1578.3 L316.1,1578.4 L317.3,1578.4 L318.5,1578.5 L319.7,1578.6 L320.9,1578.7 L322.1,1578.8 L323.3,1578.9 L324.4,1579.0 L325.6,1579.0 L326.8,1579.1 L328.0,1579.2 L329.2,1579.3 L330.4,1579.4 L331.6,1579.5 L332.8,1579.6 L333.9,1579.7 L335.1,1579.8 L336.3,1579.9 L337.5,1579.9 L338.7,1580.0 L339.9,1580.1 L341.1,1580.2 L342.3,1580.3 L343.4,1580.4 L344.6,1580.5 L345.8,1580.6 L347.0,1580.7 L348.2,1580.8 L349.4,1580.9 L350.6,1581.0 L351.8,1581.1 L352.9,1581.3 L354.1,1581.4 L355.3,1581.5 L356.5,1581.6 L357.7,1581.7 L358.9,1581.8 L360.1,1581.9 L361.3,1582.0 L362.4,1582.1 L363.6,1582.2 L364.8,1582.3 L366.0,1582.5 L367.2,1582.6 L368.4,1582.7 L369.6,1582.8 L370.8,1582.9 L371.9,1583.0 L373.1,1583.2 L374.3,1583.3 L375.5,1583.4 L376.7,1583.5 L377.9,1583.7 L379.1,1583.8 L380.3,1583.9 L381.4,1584.0 L382.6,1584.2 L383.8,1584.3 L385.0,1584.4 L386.2,1584.6 L387.4,1584.7 L388.6,1584.8 L389.8,1584.9 L390.9,1585.1 L392.1,1585.2 L393.3,1585.4 L394.5,1585.5 L395.7,1585.6 L396.9,1585.8 L398.1,1585.9 L399.3,1586.1 L400.4,1586.2 L401.6,1586.3 L402.8,1586.5 L404.0,1586.6 L405.2,1586.8 L406.4,1586.9 L407.6,1587.1 L408.8,1587.2 L409.9,1587.4 L411.1,1587.5 L412.3,1587.7 L413.5,1587.9 L414.7,1588.0 L415.9,1588.2 L417.1,1588.3 L418.3,1588.5 L419.4,1588.7 L420.6,1588.8 L421.8,1589.0 L423.0,1589.2 L424.2,1589.3 L425.4,1589.5 L426.6,1589.7 L427.8,1589.8 L428.9,1590.0 L430.1,1590.2 L431.3,1590.4 L432.5,1590.5 L433.7,1590.7 L434.9,1590.9 L436.1,1591.1 L437.3,1591.3 L438.4,1591.4 L439.6,1591.6 L440.8,1591.8 L442.0,1592.0 L443.2,1592.2 L444.4,1592.4 L445.6,1592.6 L446.8,1592.8 L447.9,1593.0 L449.1,1593.2 L450.3,1593.4 L451.5,1593.6 L452.7,1593.8 L453.9,1594.0 L455.1,1594.2 L456.3,1594.4 L457.4,1594.6 L458.6,1594.8 L459.8,1595.0 L461.0,1595.2 L462.2,1595.4 L463.4,1595.7 L464.6,1595.9 L465.8,1596.1 L466.9,1596.3 L468.1,1596.5 L469.3,1596.8 L470.5,1597.0 L471.7,1597.2 L472.9,1597.5 L474.1,1597.7 L475.3,1597.9 L476.4,1598.2 L477.6,1598.4 L478.8,1598.7 L480.0,1598.9 L481.2,1599.2 L482.4,1599.4 L483.6,1599.7 L484.8,1599.9 L485.9,1600.2 L487.1,1600.4 L488.3,1600.7 L489.5,1601.0 L490.7,1601.2 L491.9,1601.5 L493.1,1601.8 L494.3,1602.1 L495.4,1602.4 L496.6,1602.6 L497.8,1602.9 L499.0,1603.2 L500.2,1603.5 L501.4,1603.8 L502.6,1604.1 L503.8,1604.4 L504.9,1604.7 L506.1,1605.0 L507.3,1605.4 L508.5,1605.7 L509.7,1606.0 L510.9,1606.3 L512.1,1606.7 L513.3,1607.0 L514.4,1607.3 L515.6,1607.7 L516.8,1608.0 L518.0,1608.4 L519.2,1608.7 L520.4,1609.1 L521.6,1609.5 L522.8,1609.8 L523.9,1610.2 L525.1,1610.6 L526.3,1611.0 L527.5,1611.3 L528.7,1611.7 L529.9,1612.1 L531.1,1612.5 L532.3,1612.9 L533.4,1613.3 L534.6,1613.7 L535.8,1614.2 L537.0,1614.6 L538.2,1615.0 L539.4,1615.4 L540.6,1615.9 L541.8,1616.3 L542.9,1616.8 L544.1,1617.2 L545.3,1617.7 L546.5,1618.1 L547.7,1618.6 L548.9,1619.0 L550.1,1619.5 L551.3,1620.0 L552.4,1620.5 L553.6,1621.0 L554.8,1621.4 L556.0,1621.9 L557.2,1622.4 L558.4,1622.9 L559.6,1623.5 L560.8,1624.0 L561.9,1624.5 L563.1,1625.0 L564.3,1625.5 L565.5,1626.1 L566.7,1626.6 L567.9,1627.1 L569.1,1627.7 L570.3,1628.2 L571.4,1628.8 L572.6,1629.3 L573.8,1629.9 L575.0,1630.5 L576.2,1631.0 L577.4,1631.6 L578.6,1632.2 L579.8,1632.8 L580.9,1633.4 L582.1,1634.0 L583.3,1634.6 L584.5,1635.2 L585.7,1635.8 L586.9,1636.4 L588.1,1637.0 L589.3,1637.6 L590.4,1638.3 L591.6,1638.9 L592.8,1639.5 L594.0,1640.2 L595.2,1640.8 L596.4,1641.5 L597.6,1642.1 L598.8,1642.8 L599.9,1643.4 L601.1,1644.1 L602.3,1644.8 L603.5,1645.5 L604.7,1646.1 L605.9,1646.8 L607.1,1647.5 L608.3,1648.2 L609.4,1648.9 L610.6,1649.6 L611.8,1650.3 L613.0,1651.1 L614.2,1651.8 L615.4,1652.5 L616.6,1653.2 L617.8,1654.0 L618.9,1654.7 L620.1,1655.5 L621.3,1656.2 L622.5,1657.0 L623.7,1657.7 L624.9,1658.5 L626.1,1659.3 L627.3,1660.1 L628.4,1660.9 L629.6,1661.6 L630.8,1662.4 L632.0,1663.2 L633.2,1664.1 L634.4,1664.9 L635.6,1665.7 L636.8,1666.5 L637.9,1667.3 L639.1,1668.2 L640.3,1669.0 L641.5,1669.9 L642.7,1670.7 L643.9,1671.6 L645.1,1672.5 L646.3,1673.4 L647.4,1674.2 L648.6,1675.1 L649.8,1676.0 L651.0,1676.9 L652.2,1677.9 L653.4,1678.8 L654.6,1679.7 L655.8,1680.6 L656.9,1681.6 L658.1,1682.5 L659.3,1683.5 L660.5,1684.4 L661.7,1685.4 L662.9,1686.4 L664.1,1687.4 L665.3,1688.4 L666.4,1689.4 L667.6,1690.4 L668.8,1691.4 L670.0,1692.4 L671.2,1693.5 L672.4,1694.5 L673.6,1695.6 L674.8,1696.6 L675.9,1697.7 L677.1,1698.8 L678.3,1699.9 L679.5,1701.0 L680.7,1702.1 L681.9,1703.2 L683.1,1704.4 L684.3,1705.5 L685.4,1706.6 L686.6,1707.8 L687.8,1709.0 L689.0,1710.2 L690.2,1711.3 L691.4,1712.5 L692.6,1713.8 L693.8,1715.0 L694.9,1716.2 L696.1,1717.5 L697.3,1718.7 L698.5,1720.0 L699.7,1721.3 L700.9,1722.6 L702.1,1723.9 L703.3,1725.2 L704.4,1726.5 L705.6,1727.8 L706.8,1729.2 L708.0,1730.6 L709.2,1731.9 L710.4,1733.3 L711.6,1734.7 L712.8,1736.2 L713.9,1737.6 L715.1,1739.0 L716.3,1740.5 L717.5,1742.0 L718.7,1743.5 L719.9,1745.0 L721.1,1746.5 L722.3,1748.0 L723.4,1749.5 L724.6,1751.1 L725.8,1752.7 L727.0,1754.3 L728.2,1755.9 L729.4,1757.5 L730.6,1759.1 L731.8,1760.8 L732.9,1762.4 L734.1,1764.1 L735.3,1765.8 L736.5,1767.5 L737.7,1769.3 L738.9,1771.0 L740.1,1772.8 L741.3,1774.5 L742.4,1776.3 L743.6,1778.2 L744.8,1780.0 L746.0,1781.8 L747.2,1783.7 L748.4,1785.6 L749.6,1787.5 L750.8,1789.4 L751.9,1791.3 L753.1,1793.3 L754.3,1795.2 L755.5,1797.2 L756.7,1799.2 L757.9,1801.2 L759.1,1803.3 L760.3,1805.3 L761.4,1807.4 L762.6,1809.5 L763.8,1811.6 L765.0,1813.7 L766.2,1815.8 L767.4,1818.0 L768.6,1820.2 L769.8,1822.4 L770.9,1824.6 L772.1,1826.8 L773.3,1829.1 L774.5,1831.4 L775.7,1833.6 L776.9,1836.0 L778.1,1838.3 L779.3,1840.6 L780.4,1843.0 L781.6,1845.4 L782.8,1847.8 L784.0,1850.2 L785.2,1852.6 L786.4,1855.1 L787.6,1857.6 L788.8,1860.1 L789.9,1862.6 L791.1,1865.1 L792.3,1867.7 L793.5,1870.3 L794.7,1872.8 L795.9,1875.5 L797.1,1878.1 L798.3,1880.7 L799.4,1883.4 L800.6,1886.1 L801.8,1888.8 L803.0,1891.6 L804.2,1894.3 L805.4,1897.1 L806.6,1899.9 L807.8,1902.7 L808.9,1905.5 L810.1,1908.4 L811.3,1911.2 L812.5,1914.1 L813.7,1917.0 L814.9,1920.0 L816.1,1922.9 L817.3,1925.9 L818.4,1928.9 L819.6,1931.9 L820.8,1934.9 L822.0,1938.0 L823.2,1941.1 L824.4,1944.2 L825.6,1947.3 L826.8,1950.4 L827.9,1953.6 L829.1,1956.8 L830.3,1960.0 L831.5,1963.2 L832.7,1966.5 L833.9,1969.8 L835.1,1973.1 L836.3,1976.4 L837.4,1979.7 L838.6,1983.1 L839.8,1986.5 L841.0,1989.9 L842.2,1993.3 L843.4,1996.8 L844.6,2000.2 L845.8,2003.7 L846.9,2007.3 L848.1,2010.8 L849.3,2014.4 L850.5,2018.0 L851.7,2021.6 L852.9,2025.3 L854.1,2028.9 L855.3,2032.6 L856.4,2036.3 L857.6,2040.1 L858.8,2043.9 L860.0,2047.6 L861.2,2051.5 L862.4,2055.3 L863.6,2059.2 L864.8,2063.1 L865.9,2067.0 L867.1,2071.0 L868.3,2074.9 L869.5,2078.9 L870.7,2083.0 L871.9,2087.0 L873.1,2091.1 L874.3,2095.2 L875.4,2099.4 L876.6,2103.5 L877.8,2107.7 L879.0,2111.9 L880.2,2116.2 L881.4,2120.5 L882.6,2124.8 L883.8,2129.1 L884.9,2133.5 L886.1,2137.8 L887.3,2142.3 L888.5,2146.7 L889.7,2151.2 L890.9,2155.7 L892.1,2160.2 L893.3,2164.8 L894.4,2169.4 L895.6,2174.0 L896.8,2178.7 L898.0,2183.3 L899.2,2188.0 L900.4,2192.8 L901.6,2197.6 L902.8,2202.4 L903.9,2207.2 L905.1,2212.0 L906.3,2216.9 L907.5,2221.9 L908.7,2226.8 L909.9,2231.8 L911.1,2236.8 L912.3,2241.9 L913.4,2247.0 L914.6,2252.1 L915.8,2257.2 L917.0,2262.3 L918.2,2267.4 L919.4,2272.6 L920.6,2277.7 L921.8,2282.8 L922.9,2288.0 L924.1,2293.2 L925.3,2298.5 L926.5,2303.8 L927.7,2309.1 L928.9,2314.5 L930.1,2319.8 L931.3,2325.3 L932.4,2330.7 L933.6,2336.2 L934.8,2341.7 L936.0,2347.3 L937.2,2352.8 L938.4,2358.5 L939.6,2364.1 L940.8,2369.8 L941.9,2375.5 L943.1,2381.2 L944.3,2387.0 L945.5,2392.8 L946.7,2398.6 L947.9,2404.5 L949.1,2410.4 L950.3,2416.3 L951.4,2422.3 L952.6,2428.3 L953.8,2434.3 L955.0,2440.3 L956.2,2446.4 L957.4,2452.5 L958.6,2458.7 L959.8,2464.8 L960.9,2471.0 L962.1,2477.3 L963.3,2483.5 L964.5,2489.8 L965.7,2496.2 L966.9,2502.5 L968.1,2508.9 L969.3,2515.3 L970.4,2521.8 L971.6,2528.2 L972.8,2534.7 L974.0,2541.3 L975.2,2547.8 L976.4,2554.4 L977.6,2561.0 L978.8,2567.7 L979.9,2574.4 L981.1,2581.1 L982.3,2587.8 L983.5,2594.5 L984.7,2601.3 L985.9,2608.1 L987.1,2614.9" stroke="#ff0000"/>
<path d="M204.5,1594.8 L205.7,1595.0 L206.9,1595.1 L208.1,1595.3 L209.3,1595.5 L210.4,1595.6 L211.6,1595.8 L212.8,1596.0 L214.0,1596.1 L215.2,1596.3 L216.4,1596.5 L217.6,1596.6 L218.8,1596.8 L219.9,1597.0 L221.1,1597.1 L222.3,1597.3 L223.5,1597.5 L224.7,1597.6 L225.9,1597.8 L227.1,1598.0 L228.3,1598.1 L229.4,1598.3 L230.6,1598.5 L231.8,1598.6 L233.0,1598.8 L234.2,1599.0 L235.4,1599.1 L236.6,1599.3 L237.8,1599.5 L238.9,1599.6 L240.1,1599.8 L241.3,1600.0 L242.5,1600.1 L243.7,1600.3 L244.9,1600.5 L246.1,1600.6 L247.3,1600.8 L248.4,1601.0 L249.6,1601.1 L250.8,1601.3 L252.0,1601.5 L253.2,1601.6 L254.4,1601.8 L255.6,1602.0 L256.8,1602.2 L257.9,1602.3 L259.1,1602.5 L260.3,1602.7 L261.5,1602.8 L262.7,1603.0 L263.9,1603.2 L265.1,1603.4 L266.3,1603.5 L267.4,1603.7 L268.6,1603.9 L269.8,1604.1 L271.0,1604.2 L272.2,1604.4 L273.4,1604.6 L274.6,1604.8 L275.8,1604.9 L276.9,1605.1 L278.1,1605.3 L279.3,1605.5 L280.5,1605.7 L281.7,1605.8 L282.9,1606.0 L284.1,1606.2 L285.3,1606.4 L286.4,1606.6 L287.6,1606.7 L288.8,1606.9 L290.0,1607.1 L291.2,1607.3 L292.4,1607.5 L293.6,1607.6 L294.8,1607.8 L295.9,1608.0 L297.1,1608.2 L298.3,1608.4 L299.5,1608.6 L300.7,1608.8 L301.9,1608.9 L303.1,1609.1 L304.3,1609.3 L305.4,1609.5 L306.6,1609.7 L307.8,1609.9 L309.0,1610.1 L310.2,1610.3 L311.4,1610.5 L312.6,1610.7 L313.8,1610.8 L314.9,1611.0 L316.1,1611.2 L317.3,1611.4 L318.5,1611.6 L319.7,1611.8 L320.9,1612.0 L322.1,1612.2 L323.3,1612.4 L324.4,1612.6 L325.6,1612.8 L326.8,1613.0 L328.0,1613.2 L329.2,1613.4 L330.4,1613.6 L331.6,1613.8 L332.8,1614.0 L333.9,1614.2 L335.1,1614.4 L336.3,1614.6 L337.5,1614.8 L338.7,1615.0 L339.9,1615.2 L341.1,1615.4 L342.3,1615.7 L343.4,1615.9 L344.6,1616.1 L345.8,1616.3 L347.0,1616.5 L348.2,1616.7 L349.4,1616.9 L350.6,1617.1 L351.8,1617.3 L352.9,1617.5 L354.1,1617.8 L355.3,1618.0 L356.5,1618.2 L357.7,1618.4 L358.9,1618.6 L360.1,1618.8 L361.3,1619.1 L362.4,1619.3 L363.6,1619.5 L364.8,1619.7 L366.0,1619.9 L367.2,1620.2 L368.4,1620.4 L369.6,1620.6 L370.8,1620.8 L371.9,1621.0 L373.1,1621.3 L374.3,1621.5 L375.5,1621.7 L376.7,1622.0 L377.9,1622.2 L379.1,1622.4 L380.3,1622.6 L381.4,1622.9 L382.6,1623.1 L383.8,1623.3 L385.0,1623.6 L386.2,1623.8 L387.4,1624.1 L388.6,1624.3 L389.8,1624.5 L390.9,1624.8 L392.1,1625.0 L393.3,1625.3 L394.5,1625.5 L395.7,1625.7 L396.9,1626.0 L398.1,1626.2 L399.3,1626.5 L400.4,1626.7 L401.6,1627.0 L402.8,1627.2 L404.0,1627.5 L405.2,1627.7 L406.4,1628.0 L407.6,1628.3 L408.8,1628.5 L409.9,1628.8 L411.1,1629.0 L412.3,1629.3 L413.5,1629.6 L414.7,1629.8 L415.9,1630.1 L417.1,1630.4 L418.3,1630.6 L419.4,1630.9 L420.6,1631.2 L421.8,1631.4 L423.0,1631.7 L424.2,1632.0 L425.4,1632.3 L426.6,1632.5 L427.8,1632.8 L428.9,1633.1 L430.1,1633.4 L431.3,1633.7 L432.5,1634.0 L433.7,1634.2 L434.9,1634.5 L436.1,1634.8 L437.3,1635.1 L438.4,1635.4 L439.6,1635.7 L440.8,1636.0 L442.0,1636.3 L443.2,1636.6 L444.4,1636.9 L445.6,1637.2 L446.8,1637.5 L447.9,1637.8 L449.1,1638.1 L450.3,1638.4 L451.5,1638.7 L452.7,1639.0 L453.9,1639.3 L455.1,1639.7 L456.3,1640.0 L457.4,1640.3 L458.6,1640.6 L459.8,1640.9 L461.0,1641.3 L462.2,1641.6 L463.4,1641.9 L464.6,1642.3 L465.8,1642.6 L466.9,1642.9 L468.1,1643.3 L469.3,1643.6 L470.5,1643.9 L471.7,1644.3 L472.9,1644.6 L474.1,1645.0 L475.3,1645.3 L476.4,1645.7 L477.6,1646.0 L478.8,1646.4 L480.0,1646.7 L481.2,1647.1 L482.4,1647.4 L483.6,1647.8 L484.8,1648.2 L485.9,1648.5 L487.1,1648.9 L488.3,1649.3 L489.5,1649.6 L490.7,1650.0 L491.9,1650.4 L493.1,1650.8 L494.3,1651.1 L495.4,1651.5 L496.6,1651.9 L497.8,1652.3 L499.0,1652.7 L500.2,1653.1 L501.4,1653.5 L502.6,1653.9 L503.8,1654.3 L504.9,1654.7 L506.1,1655.1 L507.3,1655.5 L508.5,1655.9 L509.7,1656.3 L510.9,1656.7 L512.1,1657.2 L513.3,1657.6 L514.4,1658.0 L515.6,1658.4 L516.8,1658.9 L518.0,1659.3 L519.2,1659.7 L520.4,1660.2 L521.6,1660.6 L522.8,1661.1 L523.9,1661.5 L525.1,1662.0 L526.3,1662.4 L527.5,1662.9 L528.7,1663.4 L529.9,1663.8 L531.1,1664.3 L532.3,1664.8 L533.4,1665.2 L534.6,1665.7 L535.8,1666.2 L537.0,1666.7 L538.2,1667.2 L539.4,1667.7 L540.6,1668.2 L541.8,1668.7 L542.9,1669.2 L544.1,1669.7 L545.3,1670.2 L546.5,1670.7 L547.7,1671.2 L548.9,1671.8 L550.1,1672.3 L551.3,1672.8 L552.4,1673.4 L553.6,1673.9 L554.8,1674.4 L556.0,1675.0 L557.2,1675.5 L558.4,1676.1 L559.6,1676.6 L560.8,1677.2 L561.9,1677.8 L563.1,1678.4 L564.3,1678.9 L565.5,1679.5 L566.7,1680.1 L567.9,1680.7 L569.1,1681.3 L570.3,1681.9 L571.4,1682.5 L572.6,1683.1 L573.8,1683.7 L575.0,1684.3 L576.2,1685.0 L577.4,1685.6 L578.6,1686.2 L579.8,1686.9 L580.9,1687.5 L582.1,1688.1 L583.3,1688.8 L584.5,1689.5 L585.7,1690.1 L586.9,1690.8 L588.1,1691.5 L589.3,1692.1 L590.4,1692.8 L591.6,1693.5 L592.8,1694.2 L594.0,1694.9 L595.2,1695.6 L596.4,1696.3 L597.6,1697.1 L598.8,1697.8 L599.9,1698.5 L601.1,1699.3 L602.3,1700.0 L603.5,1700.8 L604.7,1701.5 L605.9,1702.3 L607.1,1703.0 L608.3,1703.8 L609.4,1704.6 L610.6,1705.4 L611.8,1706.2 L613.0,1707.0 L614.2,1707.8 L615.4,1708.6 L616.6,1709.4 L617.8,1710.2 L618.9,1711.1 L620.1,1711.9 L621.3,1712.8 L622.5,1713.6 L623.7,1714.5 L624.9,1715.4 L626.1,1716.2 L627.3,1717.1 L628.4,1718.0 L629.6,1718.9 L630.8,1719.8 L632.0,1720.7 L633.2,1721.7 L634.4,1722.6 L635.6,1723.5 L636.8,1724.5 L637.9,1725.4 L639.1,1726.4 L640.3,1727.4 L641.5,1728.4 L642.7,1729.3 L643.9,1730.3 L645.1,1731.4 L646.3,1732.4 L647.4,1733.4 L648.6,1734.4 L649.8,1735.5 L651.0,1736.5 L652.2,1737.6 L653.4,1738.6 L654.6,1739.7 L655.8,1740.8 L656.9,1741.9 L658.1,1743.0 L659.3,1744.1 L660.5,1745.3 L661.7,1746.4 L662.9,1747.6 L664.1,1748.7 L665.3,1749.9 L666.4,1751.1 L667.6,1752.2 L668.8,1753.4 L670.0,1754.7 L671.2,1755.9 L672.4,1757.1 L673.6,1758.4 L674.8,1759.6 L675.9,1760.9 L677.1,1762.2 L678.3,1763.4 L679.5,1764.8 L680.7,1766.1 L681.9,1767.4 L683.1,1768.7 L684.3,1770.1 L685.4,1771.4 L686.6,1772.8 L687.8,1774.2 L689.0,1775.6 L690.2,1777.0 L691.4,1778.4 L692.6,1779.9 L693.8,1781.3 L694.9,1782.8 L696.1,1784.3 L697.3,1785.7 L698.5,1787.2 L699.7,1788.8 L700.9,1790.3 L702.1,1791.8 L703.3,1793.4 L704.4,1795.0 L705.6,1796.5 L706.8,1798.1 L708.0,1799.7 L709.2,1801.4 L710.4,1803.0 L711.6,1804.7 L712.8,1806.3 L713.9,1808.0 L715.1,1809.7 L716.3,1811.4 L717.5,1813.2 L718.7,1814.9 L719.9,1816.7 L721.1,1818.4 L722.3,1820.2 L723.4,1822.0 L724.6,1823.8 L725.8,1825.7 L727.0,1827.5 L728.2,1829.4 L729.4,1831.2 L730.6,1833.1 L731.8,1835.0 L732.9,1837.0 L734.1,1838.9 L735.3,1840.9 L736.5,1842.8 L737.7,1844.8 L738.9,1846.8 L740.1,1848.8 L741.3,1850.9 L742.4,1852.9 L743.6,1855.0 L744.8,1857.0 L746.0,1859.1 L747.2,1861.3 L748.4,1863.4 L749.6,1865.5 L750.8,1867.7 L751.9,1869.9 L753.1,1872.0 L754.3,1874.3 L755.5,1876.5 L756.7,1878.7 L757.9,1881.0 L759.1,1883.3 L760.3,1885.5 L761.4,1887.9 L762.6,1890.2 L763.8,1892.5 L765.0,1894.9 L766.2,1897.3 L767.4,1899.7 L768.6,1902.1 L769.8,1904.5 L770.9,1906.9 L772.1,1909.4 L773.3,1911.9 L774.5,1914.4 L775.7,1916.9 L776.9,1919.4 L778.1,1922.0 L779.3,1924.6 L780.4,1927.2 L781.6,1929.8 L782.8,1932.4 L784.0,1935.1 L785.2,1937.7 L786.4,1940.4 L787.6,1943.1 L788.8,1945.8 L789.9,1948.6 L791.1,1951.4 L792.3,1954.1 L793.5,1956.9 L794.7,1959.8 L795.9,1962.6 L797.1,1965.5 L798.3,1968.4 L799.4,1971.3 L800.6,1974.2 L801.8,1977.2 L803.0,1980.1 L804.2,1983.1 L805.4,1986.1 L806.6,1989.2 L807.8,1992.2 L808.9,1995.3 L810.1,1998.4 L811.3,2001.5 L812.5,2004.7 L813.7,2007.9 L814.9,2011.1 L816.1,2014.3 L817.3,2017.5 L818.4,2020.8 L819.6,2024.1 L820.8,2027.4 L822.0,2030.7 L823.2,2034.1 L824.4,2037.5 L825.6,2040.9 L826.8,2044.3 L827.9,2047.8 L829.1,2051.2 L830.3,2054.7 L831.5,2058.3 L832.7,2061.8 L833.9,2065.4 L835.1,2069.0 L836.3,2072.7 L837.4,2076.3 L838.6,2080.0 L839.8,2083.8 L841.0,2087.5 L842.2,2091.3 L843.4,2095.1 L844.6,2098.9 L845.8,2102.8 L846.9,2106.6 L848.1,2110.5 L849.3,2114.5 L850.5,2118.5 L851.7,2122.5 L852.9,2126.5 L854.1,2130.5 L855.3,2134.6 L856.4,2138.7 L857.6,2142.9 L858.8,2147.1 L860.0,2151.3 L861.2,2155.5 L862.4,2159.8 L863.6,2164.1 L864.8,2168.4 L865.9,2172.7 L867.1,2177.1 L868.3,2181.5 L869.5,2186.0 L870.7,2190.5 L871.9,2195.0 L873.1,2199.5 L874.3,2204.1 L875.4,2208.7 L876.6,2213.4 L877.8,2218.1 L879.0,2222.8 L880.2,2227.5 L881.4,2232.3 L882.6,2237.1 L883.8,2241.9 L884.9,2246.8 L886.1,2251.7 L887.3,2256.7 L888.5,2261.6 L889.7,2266.6 L890.9,2271.7 L892.1,2276.8 L893.3,2281.9 L894.4,2287.0 L895.6,2292.2 L896.8,2297.4 L898.0,2302.7 L899.2,2307.9 L900.4,2313.3 L901.6,2318.6 L902.8,2324.0 L903.9,2329.4 L905.1,2334.9 L906.3,2340.4 L907.5,2345.9 L908.7,2351.4 L909.9,2357.0 L911.1,2362.7 L912.3,2368.3 L913.4,2374.0 L914.6,2379.8 L915.8,2385.5 L917.0,2391.3 L918.2,2397.2 L919.4,2403.0 L920.6,2408.9 L921.8,2414.8 L922.9,2420.8 L924.1,2426.7 L925.3,2432.8 L926.5,2438.8 L927.7,2444.9 L928.9,2451.1 L930.1,2457.3 L931.3,2463.5 L932.4,2469.7 L933.6,2476.0 L934.8,2482.3 L936.0,2488.7 L937.2,2495.1 L938.4,2501.5 L939.6,2508.0 L940.8,2514.5 L941.9,2521.0 L943.1,2527.6 L944.3,2534.2 L945.5,2540.8 L946.7,2547.5 L947.9,2554.2 L949.1,2560.9 L950.3,2567.7 L951.4,2574.5 L952.6,2581.3 L953.8,2588.2 L955.0,2595.1 L956.2,2602.1 L957.4,2609.0 L958.6,2616.0 L959.8,2623.0 L960.9,2630.1 L962.1,2637.2 L963.3,2644.3 L964.5,2651.5 L965.7,2658.6 L966.9,2665.9 L968.1,2673.1 L969.3,2680.4 L970.4,2687.7 L971.6,2695.0 L972.8,2702.3 L974.0,2709.7 L975.2,2717.1 L976.4,2724.6 L977.6,2732.0 L978.8,2739.5 L979.9,2747.0 L981.1,2754.5 L982.3,2762.1 L983.5,2769.7 L984.7,2777.3 L985.9,2784.9 L987.1,2792.6" stroke="#0000ff"/>
<path d="M204.5,1565.7 L205.7,1565.7 L206.9,1565.7 L208.1,1565.8 L209.3,1565.8 L210.4,1565.9 L211.6,1565.9 L212.8,1566.0 L214.0,1566.0 L215.2,1566.0 L216.4,1566.1 L217.6,1566.1 L218.8,1566.2 L219.9,1566.2 L221.1,1566.3 L222.3,1566.3 L223.5,1566.4 L224.7,1566.4 L225.9,1566.5 L227.1,1566.5 L228.3,1566.5 L229.4,1566.6 L230.6,1566.6 L231.8,1566.7 L233.0,1566.7 L234.2,1566.8 L235.4,1566.8 L236.6,1566.9 L237.8,1566.9 L238.9,1567.0 L240.1,1567.0 L241.3,1567.1 L242.5,1567.2 L243.7,1567.2 L244.9,1567.3 L246.1,1567.3 L247.3,1567.4 L248.4,1567.4 L249.6,1567.5 L250.8,1567.5 L252.0,1567.6 L253.2,1567.6 L254.4,1567.7 L255.6,1567.8 L256.8,1567.8 L257.9,1567.9 L259.1,1567.9 L260.3,1568.0 L261.5,1568.1 L262.7,1568.1 L263.9,1568.2 L265.1,1568.2 L266.3,1568.3 L267.4,1568.4 L268.6,1568.4 L269.8,1568.5 L271.0,1568.5 L272.2,1568.6 L273.4,1568.7 L274.6,1568.7 L275.8,1568.8 L276.9,1568.9 L278.1,1568.9 L279.3,1569.0 L280.5,1569.1 L281.7,1569.1 L282.9,1569.2 L284.1,1569.3 L285.3,1569.3 L286.4,1569.4 L287.6,1569.5 L288.8,1569.5 L290.0,1569.6 L291.2,1569.7 L292.4,1569.7 L293.6,1569.8 L294.8,1569.9 L295.9,1570.0 L297.1,1570.0 L298.3,1570.1 L299.5,1570.2 L300.7,1570.2 L301.9,1570.3 L303.1,1570.4 L304.3,1570.5 L305.4,1570.5 L306.6,1570.6 L307.8,1570.7 L309.0,1570.8 L310.2,1570.8 L311.4,1570.9 L312.6,1571.0 L313.8,1571.1 L314.9,1571.1 L316.1,1571.2 L317.3,1571.3 L318.5,1571.4 L319.7,1571.5 L320.9,1571.5 L322.1,1571.6 L323.3,1571.7 L324.4,1571.8 L325.6,1571.9 L326.8,1572.0 L328.0,1572.0 L329.2,1572.1 L330.4,1572.2 L331.6,1572.3 L332.8,1572.4 L333.9,1572.5 L335.1,1572.5 L336.3,1572.6 L337.5,1572.7 L338.7,1572.8 L339.9,1572.9 L341.1,1573.0 L342.3,1573.1 L343.4,1573.2 L344.6,1573.3 L345.8,1573.4 L347.0,1573.4 L348.2,1573.5 L349.4,1573.6 L350.6,1573.7 L351.8,1573.8 L352.9,1573.9 L354.1,1574.0 L355.3,1574.1 L356.5,1574.2 L357.7,1574.3 L358.9,1574.4 L360.1,1574.5 L361.3,1574.6 L362.4,1574.7 L363.6,1574.8 L364.8,1574.9 L366.0,1575.0 L367.2,1575.1 L368.4,1575.2 L369.6,1575.3 L370.8,1575.4 L371.9,1575.6 L373.1,1575.7 L374.3,1575.8 L375.5,1575.9 L376.7,1576.0 L377.9,1576.1 L379.1,1576.2 L380.3,1576.3 L381.4,1576.4 L382.6,1576.6 L383.8,1576.7 L385.0,1576.8 L386.2,1576.9 L387.4,1577.0 L388.6,1577.2 L389.8,1577.3 L390.9,1577.4 L392.1,1577.5 L393.3,1577.7 L394.5,1577.8 L395.7,1577.9 L396.9,1578.0 L398.1,1578.2 L399.3,1578.3 L400.4,1578.4 L401.6,1578.6 L402.8,1578.7 L404.0,1578.8 L405.2,1579.0 L406.4,1579.1 L407.6,1579.3 L408.8,1579.4 L409.9,1579.5 L411.1,1579.7 L412.3,1579.8 L413.5,1580.0 L414.7,1580.1 L415.9,1580.3 L417.1,1580.4 L418.3,1580.6 L419.4,1580.7 L420.6,1580.9 L421.8,1581.0 L423.0,1581.2 L424.2,1581.4 L425.4,1581.5 L426.6,1581.7 L427.8,1581.8 L428.9,1582.0 L430.1,1582.2 L431.3,1582.3 L432.5,1582.5 L433.7,1582.7 L434.9,1582.9 L436.1,1583.0 L437.3,1583.2 L438.4,1583.4 L439.6,1583.6 L440.8,1583.7 L442.0,1583.9 L443.2,1584.1 L444.4,1584.3 L445.6,1584.5 L446.8,1584.7 L447.9,1584.8 L449.1,1585.0 L450.3,1585.2 L451.5,1585.4 L452.7,1585.6 L453.9,1585.8 L455.1,1586.0 L456.3,1586.2 L457.4,1586.4 L458.6,1586.6 L459.8,1586.8 L461.0,1587.0 L462.2,1587.2 L463.4,1587.5 L464.6,1587.7 L465.8,1587.9 L466.9,1588.1 L468.1,1588.3 L469.3,1588.5 L470.5,1588.8 L471.7,1589.0 L472.9,1589.2 L474.1,1589.4 L475.3,1589.7 L476.4,1589.9 L477.6,1590.2 L478.8,1590.4 L480.0,1590.6 L481.2,1590.9 L482.4,1591.1 L483.6,1591.4 L484.8,1591.6 L485.9,1591.9 L487.1,1592.1 L488.3,1592.4 L489.5,1592.7 L490.7,1592.9 L491.9,1593.2 L493.1,1593.5 L494.3,1593.7 L495.4,1594.0 L496.6,1594.3 L497.8,1594.6 L499.0,1594.8 L500.2,1595.1 L501.4,1595.4 L502.6,1595.7 L503.8,1596.0 L504.9,1596.3 L506.1,1596.6 L507.3,1596.9 L508.5,1597.2 L509.7,1597.5 L510.9,1597.9 L512.1,1598.2 L513.3,1598.5 L514.4,1598.8 L515.6,1599.2 L516.8,1599.5 L518.0,1599.8 L519.2,1600.2 L520.4,1600.5 L521.6,1600.9 L522.8,1601.2 L523.9,1601.6 L525.1,1601.9 L526.3,1602.3 L527.5,1602.7 L528.7,1603.0 L529.9,1603.4 L531.1,1603.8 L532.3,1604.2 L533.4,1604.6 L534.6,1605.0 L535.8,1605.4 L537.0,1605.8 L538.2,1606.2 L539.4,1606.6 L540.6,1607.0 L541.8,1607.4 L542.9,1607.8 L544.1,1608.2 L545.3,1608.7 L546.5,1609.1 L547.7,1609.5 L548.9,1610.0 L550.1,1610.4 L551.3,1610.9 L552.4,1611.3 L553.6,1611.8 L554.8,1612.3 L556.0,1612.7 L557.2,1613.2 L558.4,1613.7 L559.6,1614.2 L560.8,1614.7 L561.9,1615.2 L563.1,1615.6 L564.3,1616.1 L565.5,1616.7 L566.7,1617.2 L567.9,1617.7 L569.1,1618.2 L570.3,1618.7 L571.4,1619.2 L572.6,1619.8 L573.8,1620.3 L575.0,1620.9 L576.2,1621.4 L577.4,1622.0 L578.6,1622.5 L579.8,1623.1 L580.9,1623.6 L582.1,1624.2 L583.3,1624.8 L584.5,1625.4 L585.7,1626.0 L586.9,1626.5 L588.1,1627.1 L589.3,1627.7 L590.4,1628.3 L591.6,1629.0 L592.8,1629.6 L594.0,1630.2 L595.2,1630.8 L596.4,1631.4 L597.6,1632.1 L598.8,1632.7 L599.9,1633.4 L601.1,1634.0 L602.3,1634.7 L603.5,1635.3 L604.7,1636.0 L605.9,1636.7 L607.1,1637.3 L608.3,1638.0 L609.4,1638.7 L610.6,1639.4 L611.8,1640.1 L613.0,1640.8 L614.2,1641.5 L615.4,1642.2 L616.6,1642.9 L617.8,1643.7 L618.9,1644.4 L620.1,1645.1 L621.3,1645.9 L622.5,1646.6 L623.7,1647.4 L624.9,1648.1 L626.1,1648.9 L627.3,1649.7 L628.4,1650.5 L629.6,1651.3 L630.8,1652.0 L632.0,1652.8 L633.2,1653.7 L634.4,1654.5 L635.6,1655.3 L636.8,1656.1 L637.9,1656.9 L639.1,1657.8 L640.3,1658.6 L641.5,1659.5 L642.7,1660.3 L643.9,1661.2 L645.1,1662.1 L646.3,1662.9 L647.4,1663.8 L648.6,1664.7 L649.8,1665.6 L651.0,1666.5 L652.2,1667.4 L653.4,1668.4 L654.6,1669.3 L655.8,1670.2 L656.9,1671.2 L658.1,1672.1 L659.3,1673.1 L660.5,1674.1 L661.7,1675.1 L662.9,1676.0 L664.1,1677.0 L665.3,1678.0 L666.4,1679.1 L667.6,1680.1 L668.8,1681.1 L670.0,1682.1 L671.2,1683.2 L672.4,1684.2 L673.6,1685.3 L674.8,1686.4 L675.9,1687.5 L677.1,1688.6 L678.3,1689.7 L679.5,1690.8 L680.7,1691.9 L681.9,1693.0 L683.1,1694.2 L684.3,1695.3 L685.4,1696.5 L686.6,1697.7 L687.8,1698.9 L689.0,1700.1 L690.2,1701.3 L691.4,1702.5 L692.6,1703.7 L693.8,1704.9 L694.9,1706.2 L696.1,1707.5 L697.3,1708.7 L698.5,1710.0 L699.7,1711.3 L700.9,1712.6 L702.1,1714.0 L703.3,1715.3 L704.4,1716.7 L705.6,1718.0 L706.8,1719.4 L708.0,1720.8 L709.2,1722.2 L710.4,1723.6 L711.6,1725.1 L712.8,1726.5 L713.9,1728.0 L715.1,1729.4 L716.3,1730.9 L717.5,1732.4 L718.7,1734.0 L719.9,1735.5 L721.1,1737.1 L722.3,1738.6 L723.4,1740.2 L724.6,1741.8 L725.8,1743.4 L727.0,1745.0 L728.2,1746.7 L729.4,1748.4 L730.6,1750.0 L731.8,1751.7 L732.9,1753.4 L734.1,1755.2 L735.3,1756.9 L736.5,1758.7 L737.7,1760.5 L738.9,1762.3 L740.1,1764.1 L741.3,1765.9 L742.4,1767.8 L743.6,1769.6 L744.8,1771.5 L746.0,1773.4 L747.2,1775.3 L748.4,1777.3 L749.6,1779.2 L750.8,1781.2 L751.9,1783.2 L753.1,1785.2 L754.3,1787.2 L755.5,1789.3 L756.7,1791.4 L757.9,1793.4 L759.1,1795.6 L760.3,1797.7 L761.4,1799.8 L762.6,1802.0 L763.8,1804.2 L765.0,1806.4 L766.2,1808.6 L767.4,1810.8 L768.6,1813.1 L769.8,1815.3 L770.9,1817.6 L772.1,1820.0 L773.3,1822.3 L774.5,1824.6 L775.7,1827.0 L776.9,1829.4 L778.1,1831.8 L779.3,1834.3 L780.4,1836.7 L781.6,1839.2 L782.8,1841.7 L784.0,1844.2 L785.2,1846.7 L786.4,1849.3 L787.6,1851.9 L788.8,1854.5 L789.9,1857.1 L791.1,1859.7 L792.3,1862.4 L793.5,1865.1 L794.7,1867.8 L795.9,1870.5 L797.1,1873.2 L798.3,1876.0 L799.4,1878.8 L800.6,1881.6 L801.8,1884.4 L803.0,1887.3 L804.2,1890.1 L805.4,1893.0 L806.6,1895.9 L807.8,1898.9 L808.9,1901.8 L810.1,1904.8 L811.3,1907.8 L812.5,1910.8 L813.7,1913.9 L814.9,1917.0 L816.1,1920.1 L817.3,1923.2 L818.4,1926.3 L819.6,1929.5 L820.8,1932.7 L822.0,1935.9 L823.2,1939.1 L824.4,1942.4 L825.6,1945.6 L826.8,1948.9 L827.9,1952.3 L829.1,1955.6 L830.3,1959.0 L831.5,1962.4 L832.7,1965.8 L833.9,1969.3 L835.1,1972.7 L836.3,1976.2 L837.4,1979.8 L838.6,1983.3 L839.8,1986.9 L841.0,1990.5 L842.2,1994.1 L843.4,1997.7 L844.6,2001.4 L845.8,2005.1 L846.9,2008.8 L848.1,2012.6 L849.3,2016.4 L850.5,2020.2 L851.7,2024.0 L852.9,2027.8 L854.1,2031.7 L855.3,2035.6 L856.4,2039.5 L857.6,2043.5 L858.8,2047.5 L860.0,2051.5 L861.2,2055.5 L862.4,2059.6 L863.6,2063.7 L864.8,2067.8 L865.9,2071.9 L867.1,2076.1 L868.3,2080.3 L869.5,2084.5 L870.7,2088.8 L871.9,2093.1 L873.1,2097.4 L874.3,2101.7 L875.4,2106.1 L876.6,2110.5 L877.8,2114.9 L879.0,2119.3 L880.2,2123.8 L881.4,2128.3 L882.6,2132.9 L883.8,2137.4 L884.9,2142.0 L886.1,2146.7 L887.3,2151.3 L888.5,2156.0 L889.7,2160.7 L890.9,2165.4 L892.1,2170.2 L893.3,2175.0 L894.4,2179.8 L895.6,2184.7 L896.8,2189.6 L898.0,2194.5 L899.2,2199.5 L900.4,2204.4 L901.6,2209.5 L902.8,2214.5 L903.9,2219.6 L905.1,2224.7 L906.3,2229.8 L907.5,2235.0 L908.7,2240.2 L909.9,2245.4 L911.1,2250.6 L912.3,2255.9 L913.4,2261.3 L914.6,2266.7 L915.8,2272.0 L917.0,2277.4 L918.2,2282.7 L919.4,2288.0 L920.6,2293.4 L921.8,2298.7 L922.9,2304.1 L924.1,2309.6 L925.3,2315.0 L926.5,2320.5 L927.7,2326.1 L928.9,2331.6 L930.1,2337.2 L931.3,2342.9 L932.4,2348.5 L933.6,2354.2 L934.8,2360.0 L936.0,2365.7 L937.2,2371.5 L938.4,2377.4 L939.6,2383.2 L940.8,2389.1 L941.9,2395.0 L943.1,2401.0 L944.3,2407.0 L945.5,2413.0 L946.7,2419.1 L947.9,2425.2 L949.1,2431.3 L950.3,2437.4 L951.4,2443.6 L952.6,2449.8 L953.8,2456.1 L955.0,2462.3 L956.2,2468.7 L957.4,2475.0 L958.6,2481.4 L959.8,2487.8 L960.9,2494.2 L962.1,2500.7 L963.3,2507.2 L964.5,2513.7 L965.7,2520.3 L966.9,2526.8 L968.1,2533.5 L969.3,2540.1 L970.4,2546.8 L971.6,2553.5 L972.8,2560.2 L974.0,2567.0 L975.2,2573.8 L976.4,2580.6 L977.6,2587.5 L978.8,2594.3 L979.9,2601.2 L981.1,2608.2 L982.3,2615.1 L983.5,2622.1 L984.7,2629.1 L985.9,2636.1 L987.1,2643.2" stroke="#ff00ff"/>
<path d="M204.5,1621.7 L205.7,1621.7 L206.9,1621.8 L208.1,1621.9 L209.3,1621.9 L210.4,1622.0 L211.6,1622.1 L212.8,1622.2 L214.0,1622.2 L215.2,1622.3 L216.4,1622.4 L217.6,1622.4 L218.8,1622.5 L219.9,1622.6 L221.1,1622.6 L222.3,1622.7 L223.5,1622.8 L224.7,1622.8 L225.9,1622.9 L227.1,1623.0 L228.3,1623.0 L229.4,1623.1 L230.6,1623.2 L231.8,1623.2 L233.0,1623.3 L234.2,1623.4 L235.4,1623.4 L236.6,1623.5 L237.8,1623.6 L238.9,1623.6 L240.1,1623.7 L241.3,1623.7 L242.5,1623.8 L243.7,1623.9 L244.9,1623.9 L246.1,1624.0 L247.3,1624.1 L248.4,1624.1 L249.6,1624.2 L250.8,1624.3 L252.0,1624.3 L253.2,1624.4 L254.4,1624.4 L255.6,1624.5 L256.8,1624.6 L257.9,1624.6 L259.1,1624.7 L260.3,1624.8 L261.5,1624.8 L262.7,1624.9 L263.9,1625.0 L265.1,1625.0 L266.3,1625.1 L267.4,1625.2 L268.6,1625.2 L269.8,1625.3 L271.0,1625.4 L272.2,1625.4 L273.4,1625.5 L274.6,1625.6 L275.8,1625.6 L276.9,1625.7 L278.1,1625.8 L279.3,1625.8 L280.5,1625.9 L281.7,1626.0 L282.9,1626.1 L284.1,1626.1 L285.3,1626.2 L286.4,1626.3 L287.6,1626.4 L288.8,1626.4 L290.0,1626.5 L291.2,1626.6 L292.4,1626.7 L293.6,1626.8 L294.8,1626.8 L295.9,1626.9 L297.1,1627.0 L298.3,1627.1 L299.5,1627.2 L300.7,1627.3 L301.9,1627.3 L303.1,1627.4 L304.3,1627.5 L305.4,1627.6 L306.6,1627.7 L307.8,1627.8 L309.0,1627.9 L310.2,1628.0 L311.4,1628.1 L312.6,1628.2 L313.8,1628.3 L314.9,1628.4 L316.1,1628.5 L317.3,1628.5 L318.5,1628.6 L319.7,1628.7 L320.9,1628.8 L322.1,1628.9 L323.3,1629.1 L324.4,1629.2 L325.6,1629.3 L326.8,1629.4 L328.0,1629.5 L329.2,1629.6 L330.4,1629.7 L331.6,1629.8 L332.8,1629.9 L333.9,1630.0 L335.1,1630.1 L336.3,1630.2 L337.5,1630.3 L338.7,1630.4 L339.9,1630.6 L341.1,1630.7 L342.3,1630.8 L343.4,1630.9 L344.6,1631.0 L345.8,1631.1 L347.0,1631.3 L348.2,1631.4 L349.4,1631.5 L350.6,1631.6 L351.8,1631.7 L352.9,1631.8 L354.1,1632.0 L355.3,1632.1 L356.5,1632.2 L357.7,1632.3 L358.9,1632.5 L360.1,1632.6 L361.3,1632.7 L362.4,1632.8 L363.6,1633.0 L364.8,1633.1 L366.0,1633.2 L367.2,1633.4 L368.4,1633.5 L369.6,1633.6 L370.8,1633.8 L371.9,1633.9 L373.1,1634.0 L374.3,1634.2 L375.5,1634.3 L376.7,1634.4 L377.9,1634.6 L379.1,1634.7 L380.3,1634.9 L381.4,1635.0 L382.6,1635.2 L383.8,1635.3 L385.0,1635.5 L386.2,1635.6 L387.4,1635.8 L388.6,1635.9 L389.8,1636.1 L390.9,1636.2 L392.1,1636.4 L393.3,1636.5 L394.5,1636.7 L395.7,1636.9 L396.9,1637.0 L398.1,1637.2 L399.3,1637.4 L400.4,1637.5 L401.6,1637.7 L402.8,1637.9 L404.0,1638.0 L405.2,1638.2 L406.4,1638.4 L407.6,1638.6 L408.8,1638.7 L409.9,1638.9 L411.1,1639.1 L412.3,1639.3 L413.5,1639.5 L414.7,1639.7 L415.9,1639.9 L417.1,1640.1 L418.3,1640.3 L419.4,1640.5 L420.6,1640.7 L421.8,1640.9 L423.0,1641.1 L424.2,1641.3 L425.4,1641.5 L426.6,1641.7 L427.8,1641.9 L428.9,1642.1 L430.1,1642.4 L431.3,1642.6 L432.5,1642.8 L433.7,1643.0 L434.9,1643.3 L436.1,1643.5 L437.3,1643.7 L438.4,1644.0 L439.6,1644.2 L440.8,1644.4 L442.0,1644.7 L443.2,1644.9 L444.4,1645.2 L445.6,1645.4 L446.8,1645.7 L447.9,1645.9 L449.1,1646.2 L450.3,1646.4 L451.5,1646.7 L452.7,1647.0 L453.9,1647.2 L455.1,1647.5 L456.3,1647.8 L457.4,1648.1 L458.6,1648.3 L459.8,1648.6 L461.0,1648.9 L462.2,1649.2 L463.4,1649.5 L464.6,1649.8 L465.8,1650.1 L466.9,1650.4 L468.1,1650.7 L469.3,1651.0 L470.5,1651.3 L471.7,1651.6 L472.9,1651.9 L474.1,1652.2 L475.3,1652.5 L476.4,1652.9 L477.6,1653.2 L478.8,1653.5 L480.0,1653.8 L481.2,1654.2 L482.4,1654.5 L483.6,1654.8 L484.8,1655.2 L485.9,1655.5 L487.1,1655.9 L488.3,1656.2 L489.5,1656.6 L490.7,1656.9 L491.9,1657.3 L493.1,1657.6 L494.3,1658.0 L495.4,1658.4 L496.6,1658.7 L497.8,1659.1 L499.0,1659.5 L500.2,1659.8 L501.4,1660.2 L502.6,1660.6 L503.8,1661.0 L504.9,1661.4 L506.1,1661.7 L507.3,1662.1 L508.5,1662.5 L509.7,1662.9 L510.9,1663.3 L512.1,1663.7 L513.3,1664.1 L514.4,1664.5 L515.6,1664.9 L516.8,1665.3 L518.0,1665.8 L519.2,1666.2 L520.4,1666.6 L521.6,1667.0 L522.8,1667.4 L523.9,1667.9 L525.1,1668.3 L526.3,1668.7 L527.5,1669.2 L528.7,1669.6 L529.9,1670.0 L531.1,1670.5 L532.3,1670.9 L533.4,1671.4 L534.6,1671.8 L535.8,1672.3 L537.0,1672.7 L538.2,1673.2 L539.4,1673.6 L540.6,1674.1 L541.8,1674.6 L542.9,1675.0 L544.1,1675.5 L545.3,1676.0 L546.5,1676.5 L547.7,1677.0 L548.9,1677.4 L550.1,1677.9 L551.3,1678.4 L552.4,1678.9 L553.6,1679.4 L554.8,1679.9 L556.0,1680.4 L557.2,1680.9 L558.4,1681.4 L559.6,1681.9 L560.8,1682.4 L561.9,1683.0 L563.1,1683.5 L564.3,1684.0 L565.5,1684.5 L566.7,1685.1 L567.9,1685.6 L569.1,1686.1 L570.3,1686.7 L571.4,1687.2 L572.6,1687.8 L573.8,1688.3 L575.0,1688.9 L576.2,1689.4 L577.4,1690.0 L578.6,1690.6 L579.8,1691.2 L580.9,1691.7 L582.1,1692.3 L583.3,1692.9 L584.5,1693.5 L585.7,1694.1 L586.9,1694.7 L588.1,1695.3 L589.3,1695.9 L590.4,1696.5 L591.6,1697.1 L592.8,1697.7 L594.0,1698.3 L595.2,1699.0 L596.4,1699.6 L597.6,1700.2 L598.8,1700.9 L599.9,1701.5 L601.1,1702.2 L602.3,1702.8 L603.5,1703.5 L604.7,1704.2 L605.9,1704.8 L607.1,1705.5 L608.3,1706.2 L609.4,1706.9 L610.6,1707.6 L611.8,1708.3 L613.0,1709.0 L614.2,1709.7 L615.4,1710.4 L616.6,1711.1 L617.8,1711.9 L618.9,1712.6 L620.1,1713.3 L621.3,1714.1 L622.5,1714.8 L623.7,1715.6 L624.9,1716.4 L626.1,1717.1 L627.3,1717.9 L628.4,1718.7 L629.6,1719.5 L630.8,1720.3 L632.0,1721.1 L633.2,1721.9 L634.4,1722.7 L635.6,1723.6 L636.8,1724.4 L637.9,1725.2 L639.1,1726.1 L640.3,1726.9 L641.5,1727.8 L642.7,1728.7 L643.9,1729.6 L645.1,1730.4 L646.3,1731.3 L647.4,1732.2 L648.6,1733.2 L649.8,1734.1 L651.0,1735.0 L652.2,1735.9 L653.4,1736.9 L654.6,1737.8 L655.8,1738.8 L656.9,1739.8 L658.1,1740.7 L659.3,1741.7 L660.5,1742.7 L661.7,1743.7 L662.9,1744.8 L664.1,1745.8 L665.3,1746.8 L666.4,1747.9 L667.6,1748.9 L668.8,1750.0 L670.0,1751.1 L671.2,1752.2 L672.4,1753.2 L673.6,1754.4 L674.8,1755.5 L675.9,1756.6 L677.1,1757.7 L678.3,1758.9 L679.5,1760.0 L680.7,1761.2 L681.9,1762.4 L683.1,1763.6 L684.3,1764.8 L685.4,1766.0 L686.6,1767.2 L687.8,1768.5 L689.0,1769.7 L690.2,1771.0 L691.4,1772.3 L692.6,1773.6 L693.8,1774.9 L694.9,1776.2 L696.1,1777.5 L697.3,1778.8 L698.5,1780.2 L699.7,1781.6 L700.9,1782.9 L702.1,1784.3 L703.3,1785.7 L704.4,1787.1 L705.6,1788.6 L706.8,1790.0 L708.0,1791.5 L709.2,1793.0 L710.4,1794.5 L711.6,1796.0 L712.8,1797.5 L713.9,1799.0 L715.1,1800.6 L716.3,1802.1 L717.5,1803.7 L718.7,1805.3 L719.9,1806.9 L721.1,1808.5 L722.3,1810.2 L723.4,1811.8 L724.6,1813.5 L725.8,1815.2 L727.0,1816.9 L728.2,1818.6 L729.4,1820.3 L730.6,1822.1 L731.8,1823.8 L732.9,1825.6 L734.1,1827.4 L735.3,1829.2 L736.5,1831.0 L737.7,1832.9 L738.9,1834.7 L740.1,1836.6 L741.3,1838.5 L742.4,1840.4 L743.6,1842.4 L744.8,1844.3 L746.0,1846.3 L747.2,1848.3 L748.4,1850.3 L749.6,1852.3 L750.8,1854.3 L751.9,1856.4 L753.1,1858.4 L754.3,1860.5 L755.5,1862.6 L756.7,1864.8 L757.9,1866.9 L759.1,1869.1 L760.3,1871.2 L761.4,1873.4 L762.6,1875.7 L763.8,1877.9 L765.0,1880.1 L766.2,1882.4 L767.4,1884.7 L768.6,1887.0 L769.8,1889.3 L770.9,1891.7 L772.1,1894.1 L773.3,1896.4 L774.5,1898.9 L775.7,1901.3 L776.9,1903.7 L778.1,1906.2 L779.3,1908.7 L780.4,1911.2 L781.6,1913.7 L782.8,1916.2 L784.0,1918.8 L785.2,1921.4 L786.4,1924.0 L787.6,1926.6 L788.8,1929.3 L789.9,1931.9 L791.1,1934.6 L792.3,1937.3 L793.5,1940.1 L794.7,1942.8 L795.9,1945.6 L797.1,1948.4 L798.3,1951.2 L799.4,1954.0 L800.6,1956.9 L801.8,1959.8 L803.0,1962.7 L804.2,1965.6 L805.4,1968.6 L806.6,1971.5 L807.8,1974.5 L808.9,1977.6 L810.1,1980.6 L811.3,1983.7 L812.5,1986.8 L813.7,1989.9 L814.9,1993.0 L816.1,1996.2 L817.3,1999.3 L818.4,2002.5 L819.6,2005.8 L820.8,2009.0 L822.0,2012.3 L823.2,2015.6 L824.4,2018.9 L825.6,2022.3 L826.8,2025.7 L827.9,2029.1 L829.1,2032.5 L830.3,2035.9 L831.5,2039.4 L832.7,2042.9 L833.9,2046.5 L835.1,2050.0 L836.3,2053.6 L837.4,2057.2 L838.6,2060.8 L839.8,2064.5 L841.0,2068.2 L842.2,2071.9 L843.4,2075.6 L844.6,2079.4 L845.8,2083.2 L846.9,2087.0 L848.1,2090.9 L849.3,2094.7 L850.5,2098.6 L851.7,2102.6 L852.9,2106.5 L854.1,2110.5 L855.3,2114.5 L856.4,2118.6 L857.6,2122.6 L858.8,2126.7 L860.0,2130.9 L861.2,2135.0 L862.4,2139.2 L863.6,2143.4 L864.8,2147.7 L865.9,2152.0 L867.1,2156.3 L868.3,2160.6 L869.5,2165.0 L870.7,2169.4 L871.9,2173.8 L873.1,2178.2 L874.3,2182.7 L875.4,2187.2 L876.6,2191.8 L877.8,2196.4 L879.0,2201.0 L880.2,2205.6 L881.4,2210.3 L882.6,2215.0 L883.8,2219.7 L884.9,2224.5 L886.1,2229.3 L887.3,2234.1 L888.5,2239.0 L889.7,2243.9 L890.9,2248.8 L892.1,2253.7 L893.3,2258.7 L894.4,2263.7 L895.6,2268.8 L896.8,2273.9 L898.0,2279.0 L899.2,2284.2 L900.4,2289.3 L901.6,2294.5 L902.8,2299.8 L903.9,2305.1 L905.1,2310.4 L906.3,2315.7 L907.5,2321.1 L908.7,2326.5 L909.9,2332.0 L911.1,2337.5 L912.3,2343.0 L913.4,2348.5 L914.6,2354.1 L915.8,2359.8 L917.0,2365.4 L918.2,2371.0 L919.4,2376.6 L920.6,2382.2 L921.8,2387.8 L922.9,2393.5 L924.1,2399.2 L925.3,2405.0 L926.5,2410.8 L927.7,2416.6 L928.9,2422.4 L930.1,2428.3 L931.3,2434.3 L932.4,2440.2 L933.6,2446.2 L934.8,2452.3 L936.0,2458.3 L937.2,2464.4 L938.4,2470.5 L939.6,2476.7 L940.8,2482.9 L941.9,2489.1 L943.1,2495.4 L944.3,2501.7 L945.5,2508.0 L946.7,2514.4 L947.9,2520.7 L949.1,2527.2 L950.3,2533.6 L951.4,2540.1 L952.6,2546.6 L953.8,2553.2 L955.0,2559.7 L956.2,2566.4 L957.4,2573.0 L958.6,2579.7 L959.8,2586.4 L960.9,2593.1 L962.1,2599.9 L963.3,2606.7 L964.5,2613.5 L965.7,2620.3 L966.9,2627.2 L968.1,2634.1 L969.3,2641.1 L970.4,2648.0 L971.6,2655.0 L972.8,2662.0 L974.0,2669.1 L975.2,2676.2 L976.4,2683.3 L977.6,2690.4 L978.8,2697.5 L979.9,2704.7 L981.1,2711.9 L982.3,2719.2 L983.5,2726.4 L984.7,2733.7 L985.9,2741.0 L987.1,2748.3" stroke="#008000"/>
</g>
<text x="172.5" y="2456.0" font-size="45.5" text-anchor="end">60</text>
<rect x="185.5" y="2195.1" width="17" height="5.4" fill="#000"/>
<text x="172.5" y="2210.2" font-size="45.5" text-anchor="end">70</text>
<rect x="185.5" y="1949.3" width="17" height="5.4" fill="#000"/>
<text x="172.5" y="1964.5" font-size="45.5" text-anchor="end">80</text>
<rect x="185.5" y="1703.5" width="17" height="5.4" fill="#000"/>
<text x="172.5" y="1718.8" font-size="45.5" text-anchor="end">90</text>
<text x="172.5" y="1473.0" font-size="45.5" text-anchor="end">100</text>
<rect x="194" y="2319.1" width="9" height="3" fill="#000"/>
<rect x="194" y="2073.4" width="9" height="3" fill="#000"/>
<rect x="194" y="1827.6" width="9" height="3" fill="#000"/>
<rect x="194" y="1581.9" width="9" height="3" fill="#000"/>
<text x="204.0" y="2511" font-size="45.5" text-anchor="middle">300</text>
<rect x="439.2" y="2446" width="5.6" height="16" fill="#000"/>
<text x="441.5" y="2511" font-size="45.5" text-anchor="middle">320</text>
<rect x="676.7" y="2446" width="5.6" height="16" fill="#000"/>
<text x="679.0" y="2511" font-size="45.5" text-anchor="middle">340</text>
<rect x="914.2" y="2446" width="5.6" height="16" fill="#000"/>
<text x="916.5" y="2511" font-size="45.5" text-anchor="middle">360</text>
<rect x="1151.7" y="2446" width="5.6" height="16" fill="#000"/>
<text x="1154.0" y="2511" font-size="45.5" text-anchor="middle">380</text>
<rect x="1389.2" y="2446" width="5.6" height="16" fill="#000"/>
<text x="1391.5" y="2511" font-size="45.5" text-anchor="middle">400</text>
<rect x="320.6" y="2446" width="5.4" height="5.5" fill="#000"/>
<rect x="558.0" y="2446" width="5.4" height="5.5" fill="#000"/>
<rect x="795.5" y="2446" width="5.4" height="5.5" fill="#000"/>
<rect x="1033.0" y="2446" width="5.4" height="5.5" fill="#000"/>
<rect x="1270.5" y="2446" width="5.4" height="5.5" fill="#000"/>
<text x="753.5" y="2630.7" font-size="56.2" text-anchor="middle">Temperature (°C)</text>
<text transform="translate(68.5,1953) rotate(-90)" font-size="56.8" text-anchor="middle">weight %</text>
<rect x="1311" y="1482" width="54" height="68" fill="#fff" stroke="#000" stroke-width="5.4"/>
<text x="1342" y="1534" font-size="56" text-anchor="middle">b</text>
<rect x="258.4" y="2154.8" width="94.2" height="2.2" fill="#000000"/>
<rect x="303" y="2152.9" width="6" height="6" fill="#000"/>
<text x="360.8" y="2169.1" font-size="39">Neat PLLA</text>
<rect x="258.4" y="2203.5" width="94.2" height="5.4" fill="#ff0000"/>
<text x="360.8" y="2219.4" font-size="39">PLLA_Lignin</text>
<rect x="258.4" y="2255.9" width="94.2" height="2.2" fill="#0000ff"/>
<path d="M306,2253.0 l4.5,7 h-9 z" fill="#0000ff"/>
<text x="360.8" y="2270.2" font-size="39">PLLA_Lignin_MWCNT</text>
<rect x="258.4" y="2304.2" width="94.2" height="5.4" fill="#ff00ff"/>
<path d="M303.5,2309.4 h5 l-2.5,3.5 z" fill="#ff00ff"/>
<text x="360.8" y="2320.1" font-size="39">PLLA_Lignin_rGO</text>
<rect x="258.4" y="2355.8" width="94.2" height="2.2" fill="#008000"/>
<path d="M306,2352.9 l4,4 l-4,4 l-4,-4 z" fill="#008000"/>
<text x="360.8" y="2370.1" font-size="39">PLLA_Lignin_C30B</text>
</svg></body></html>
